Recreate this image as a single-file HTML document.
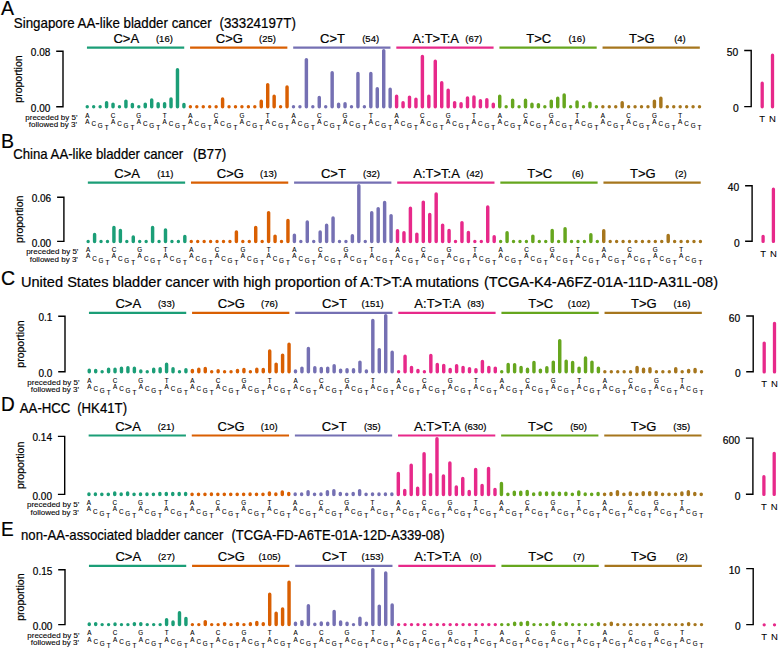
<!DOCTYPE html>
<html><head><meta charset="utf-8"><style>html,body{margin:0;padding:0;background:#fff;width:779px;height:650px;overflow:hidden}svg{display:block}</style></head>
<body><svg width="779" height="650" viewBox="0 0 779 650" font-family='"Liberation Sans", sans-serif'>
<rect width="779" height="650" fill="#fff"/>
<g><text transform="translate(1.00 15.30) scale(1 1.08)" font-size="19.5" stroke="#000" stroke-width="0.2">A</text><text transform="translate(13.80 28.00) scale(1 1.12)" font-size="13.35" stroke="#000" stroke-width="0.2">Singapore AA-like bladder cancer</text><text transform="translate(219.50 28.00) scale(1 1.12)" font-size="13.35" stroke="#000" stroke-width="0.2">(33324197T)</text><line x1="86.95" y1="47.6" x2="184.23" y2="47.6" stroke="#1b9e77" stroke-width="2.2"/><text transform="translate(126.29 42.60) scale(1 1.04)" font-size="13" text-anchor="middle" stroke="#000" stroke-width="0.2">C&gt;A</text><text transform="translate(164.39 42.00) scale(1 0.9)" font-size="9.5" text-anchor="middle" stroke="#000" stroke-width="0.2">(16)</text><path d="M87.25 106.80V106.80 M93.69 106.80V106.80 M100.14 106.80V106.80 M106.59 106.80V102.70 M113.03 106.80V104.10 M119.47 106.80V106.80 M125.92 106.80V101.10 M132.37 106.80V104.40 M138.81 106.80V106.80 M145.25 106.80V104.10 M151.70 106.80V100.00 M158.15 106.80V103.80 M164.59 106.80V103.80 M171.03 106.80V98.90 M177.48 106.80V69.80 M183.93 106.80V104.40" stroke="#1b9e77" stroke-width="3.45" stroke-linecap="round" fill="none"/><text x="87.25" y="117.60" font-size="6.3" text-anchor="middle" stroke="#000" stroke-width="0.1">A</text><text x="87.25" y="123.70" font-size="6.3" text-anchor="middle" stroke="#000" stroke-width="0.1">A</text><text x="93.69" y="126.10" font-size="6.3" text-anchor="middle" stroke="#000" stroke-width="0.1">C</text><text x="100.14" y="128.20" font-size="6.3" text-anchor="middle" stroke="#000" stroke-width="0.1">G</text><text x="106.59" y="130.00" font-size="6.3" text-anchor="middle" stroke="#000" stroke-width="0.1">T</text><text x="113.03" y="117.60" font-size="6.3" text-anchor="middle" stroke="#000" stroke-width="0.1">C</text><text x="113.03" y="123.70" font-size="6.3" text-anchor="middle" stroke="#000" stroke-width="0.1">A</text><text x="119.47" y="126.10" font-size="6.3" text-anchor="middle" stroke="#000" stroke-width="0.1">C</text><text x="125.92" y="128.20" font-size="6.3" text-anchor="middle" stroke="#000" stroke-width="0.1">G</text><text x="132.37" y="130.00" font-size="6.3" text-anchor="middle" stroke="#000" stroke-width="0.1">T</text><text x="138.81" y="117.60" font-size="6.3" text-anchor="middle" stroke="#000" stroke-width="0.1">G</text><text x="138.81" y="123.70" font-size="6.3" text-anchor="middle" stroke="#000" stroke-width="0.1">A</text><text x="145.25" y="126.10" font-size="6.3" text-anchor="middle" stroke="#000" stroke-width="0.1">C</text><text x="151.70" y="128.20" font-size="6.3" text-anchor="middle" stroke="#000" stroke-width="0.1">G</text><text x="158.15" y="130.00" font-size="6.3" text-anchor="middle" stroke="#000" stroke-width="0.1">T</text><text x="164.59" y="117.60" font-size="6.3" text-anchor="middle" stroke="#000" stroke-width="0.1">T</text><text x="164.59" y="123.70" font-size="6.3" text-anchor="middle" stroke="#000" stroke-width="0.1">A</text><text x="171.03" y="126.10" font-size="6.3" text-anchor="middle" stroke="#000" stroke-width="0.1">C</text><text x="177.48" y="128.20" font-size="6.3" text-anchor="middle" stroke="#000" stroke-width="0.1">G</text><text x="183.93" y="130.00" font-size="6.3" text-anchor="middle" stroke="#000" stroke-width="0.1">T</text><line x1="190.07" y1="47.6" x2="287.35" y2="47.6" stroke="#d95f02" stroke-width="2.2"/><text transform="translate(229.41 42.60) scale(1 1.04)" font-size="13" text-anchor="middle" stroke="#000" stroke-width="0.2">C&gt;G</text><text transform="translate(267.51 42.00) scale(1 0.9)" font-size="9.5" text-anchor="middle" stroke="#000" stroke-width="0.2">(25)</text><path d="M190.37 106.80V106.80 M196.81 106.80V106.80 M203.26 106.80V106.80 M209.71 106.80V106.80 M216.15 106.80V106.80 M222.59 106.80V98.90 M229.04 106.80V106.80 M235.49 106.80V106.80 M241.93 106.80V106.80 M248.38 106.80V106.80 M254.82 106.80V106.80 M261.26 106.80V101.20 M267.71 106.80V84.60 M274.15 106.80V96.20 M280.60 106.80V106.80 M287.05 106.80V87.00" stroke="#d95f02" stroke-width="3.45" stroke-linecap="round" fill="none"/><text x="190.37" y="117.60" font-size="6.3" text-anchor="middle" stroke="#000" stroke-width="0.1">A</text><text x="190.37" y="123.70" font-size="6.3" text-anchor="middle" stroke="#000" stroke-width="0.1">A</text><text x="196.81" y="126.10" font-size="6.3" text-anchor="middle" stroke="#000" stroke-width="0.1">C</text><text x="203.26" y="128.20" font-size="6.3" text-anchor="middle" stroke="#000" stroke-width="0.1">G</text><text x="209.71" y="130.00" font-size="6.3" text-anchor="middle" stroke="#000" stroke-width="0.1">T</text><text x="216.15" y="117.60" font-size="6.3" text-anchor="middle" stroke="#000" stroke-width="0.1">C</text><text x="216.15" y="123.70" font-size="6.3" text-anchor="middle" stroke="#000" stroke-width="0.1">A</text><text x="222.59" y="126.10" font-size="6.3" text-anchor="middle" stroke="#000" stroke-width="0.1">C</text><text x="229.04" y="128.20" font-size="6.3" text-anchor="middle" stroke="#000" stroke-width="0.1">G</text><text x="235.49" y="130.00" font-size="6.3" text-anchor="middle" stroke="#000" stroke-width="0.1">T</text><text x="241.93" y="117.60" font-size="6.3" text-anchor="middle" stroke="#000" stroke-width="0.1">G</text><text x="241.93" y="123.70" font-size="6.3" text-anchor="middle" stroke="#000" stroke-width="0.1">A</text><text x="248.38" y="126.10" font-size="6.3" text-anchor="middle" stroke="#000" stroke-width="0.1">C</text><text x="254.82" y="128.20" font-size="6.3" text-anchor="middle" stroke="#000" stroke-width="0.1">G</text><text x="261.26" y="130.00" font-size="6.3" text-anchor="middle" stroke="#000" stroke-width="0.1">T</text><text x="267.71" y="117.60" font-size="6.3" text-anchor="middle" stroke="#000" stroke-width="0.1">T</text><text x="267.71" y="123.70" font-size="6.3" text-anchor="middle" stroke="#000" stroke-width="0.1">A</text><text x="274.15" y="126.10" font-size="6.3" text-anchor="middle" stroke="#000" stroke-width="0.1">C</text><text x="280.60" y="128.20" font-size="6.3" text-anchor="middle" stroke="#000" stroke-width="0.1">G</text><text x="287.05" y="130.00" font-size="6.3" text-anchor="middle" stroke="#000" stroke-width="0.1">T</text><line x1="293.19" y1="47.6" x2="390.47" y2="47.6" stroke="#7570b3" stroke-width="2.2"/><text transform="translate(332.53 42.60) scale(1 1.04)" font-size="13" text-anchor="middle" stroke="#000" stroke-width="0.2">C&gt;T</text><text transform="translate(370.63 42.00) scale(1 0.9)" font-size="9.5" text-anchor="middle" stroke="#000" stroke-width="0.2">(54)</text><path d="M293.49 106.80V106.80 M299.94 106.80V106.80 M306.38 106.80V59.60 M312.83 106.80V106.80 M319.27 106.80V97.50 M325.72 106.80V106.80 M332.16 106.80V72.80 M338.61 106.80V104.20 M345.05 106.80V103.80 M351.50 106.80V106.80 M357.94 106.80V73.50 M364.38 106.80V106.80 M370.83 106.80V73.50 M377.28 106.80V88.70 M383.72 106.80V50.60 M390.17 106.80V89.30" stroke="#7570b3" stroke-width="3.45" stroke-linecap="round" fill="none"/><text x="293.49" y="117.60" font-size="6.3" text-anchor="middle" stroke="#000" stroke-width="0.1">A</text><text x="293.49" y="123.70" font-size="6.3" text-anchor="middle" stroke="#000" stroke-width="0.1">A</text><text x="299.94" y="126.10" font-size="6.3" text-anchor="middle" stroke="#000" stroke-width="0.1">C</text><text x="306.38" y="128.20" font-size="6.3" text-anchor="middle" stroke="#000" stroke-width="0.1">G</text><text x="312.83" y="130.00" font-size="6.3" text-anchor="middle" stroke="#000" stroke-width="0.1">T</text><text x="319.27" y="117.60" font-size="6.3" text-anchor="middle" stroke="#000" stroke-width="0.1">C</text><text x="319.27" y="123.70" font-size="6.3" text-anchor="middle" stroke="#000" stroke-width="0.1">A</text><text x="325.72" y="126.10" font-size="6.3" text-anchor="middle" stroke="#000" stroke-width="0.1">C</text><text x="332.16" y="128.20" font-size="6.3" text-anchor="middle" stroke="#000" stroke-width="0.1">G</text><text x="338.61" y="130.00" font-size="6.3" text-anchor="middle" stroke="#000" stroke-width="0.1">T</text><text x="345.05" y="117.60" font-size="6.3" text-anchor="middle" stroke="#000" stroke-width="0.1">G</text><text x="345.05" y="123.70" font-size="6.3" text-anchor="middle" stroke="#000" stroke-width="0.1">A</text><text x="351.50" y="126.10" font-size="6.3" text-anchor="middle" stroke="#000" stroke-width="0.1">C</text><text x="357.94" y="128.20" font-size="6.3" text-anchor="middle" stroke="#000" stroke-width="0.1">G</text><text x="364.38" y="130.00" font-size="6.3" text-anchor="middle" stroke="#000" stroke-width="0.1">T</text><text x="370.83" y="117.60" font-size="6.3" text-anchor="middle" stroke="#000" stroke-width="0.1">T</text><text x="370.83" y="123.70" font-size="6.3" text-anchor="middle" stroke="#000" stroke-width="0.1">A</text><text x="377.28" y="126.10" font-size="6.3" text-anchor="middle" stroke="#000" stroke-width="0.1">C</text><text x="383.72" y="128.20" font-size="6.3" text-anchor="middle" stroke="#000" stroke-width="0.1">G</text><text x="390.17" y="130.00" font-size="6.3" text-anchor="middle" stroke="#000" stroke-width="0.1">T</text><line x1="396.31" y1="47.6" x2="493.59" y2="47.6" stroke="#e7298a" stroke-width="2.2"/><text transform="translate(435.65 42.60) scale(1 1.04)" font-size="13" text-anchor="middle" stroke="#000" stroke-width="0.2">A:T&gt;T:A</text><text transform="translate(473.75 42.00) scale(1 0.9)" font-size="9.5" text-anchor="middle" stroke="#000" stroke-width="0.2">(67)</text><path d="M396.61 106.80V96.20 M403.06 106.80V102.80 M409.50 106.80V97.10 M415.94 106.80V99.30 M422.39 106.80V56.50 M428.84 106.80V96.20 M435.28 106.80V61.20 M441.73 106.80V82.70 M448.17 106.80V90.30 M454.62 106.80V102.60 M461.06 106.80V103.80 M467.50 106.80V97.90 M473.95 106.80V96.90 M480.40 106.80V100.80 M486.84 106.80V99.80 M493.29 106.80V104.20" stroke="#e7298a" stroke-width="3.45" stroke-linecap="round" fill="none"/><text x="396.61" y="117.60" font-size="6.3" text-anchor="middle" stroke="#000" stroke-width="0.1">A</text><text x="396.61" y="123.70" font-size="6.3" text-anchor="middle" stroke="#000" stroke-width="0.1">A</text><text x="403.06" y="126.10" font-size="6.3" text-anchor="middle" stroke="#000" stroke-width="0.1">C</text><text x="409.50" y="128.20" font-size="6.3" text-anchor="middle" stroke="#000" stroke-width="0.1">G</text><text x="415.94" y="130.00" font-size="6.3" text-anchor="middle" stroke="#000" stroke-width="0.1">T</text><text x="422.39" y="117.60" font-size="6.3" text-anchor="middle" stroke="#000" stroke-width="0.1">C</text><text x="422.39" y="123.70" font-size="6.3" text-anchor="middle" stroke="#000" stroke-width="0.1">A</text><text x="428.84" y="126.10" font-size="6.3" text-anchor="middle" stroke="#000" stroke-width="0.1">C</text><text x="435.28" y="128.20" font-size="6.3" text-anchor="middle" stroke="#000" stroke-width="0.1">G</text><text x="441.73" y="130.00" font-size="6.3" text-anchor="middle" stroke="#000" stroke-width="0.1">T</text><text x="448.17" y="117.60" font-size="6.3" text-anchor="middle" stroke="#000" stroke-width="0.1">G</text><text x="448.17" y="123.70" font-size="6.3" text-anchor="middle" stroke="#000" stroke-width="0.1">A</text><text x="454.62" y="126.10" font-size="6.3" text-anchor="middle" stroke="#000" stroke-width="0.1">C</text><text x="461.06" y="128.20" font-size="6.3" text-anchor="middle" stroke="#000" stroke-width="0.1">G</text><text x="467.50" y="130.00" font-size="6.3" text-anchor="middle" stroke="#000" stroke-width="0.1">T</text><text x="473.95" y="117.60" font-size="6.3" text-anchor="middle" stroke="#000" stroke-width="0.1">T</text><text x="473.95" y="123.70" font-size="6.3" text-anchor="middle" stroke="#000" stroke-width="0.1">A</text><text x="480.40" y="126.10" font-size="6.3" text-anchor="middle" stroke="#000" stroke-width="0.1">C</text><text x="486.84" y="128.20" font-size="6.3" text-anchor="middle" stroke="#000" stroke-width="0.1">G</text><text x="493.29" y="130.00" font-size="6.3" text-anchor="middle" stroke="#000" stroke-width="0.1">T</text><line x1="499.43" y1="47.6" x2="596.70" y2="47.6" stroke="#66a61e" stroke-width="2.2"/><text transform="translate(538.77 42.60) scale(1 1.04)" font-size="13" text-anchor="middle" stroke="#000" stroke-width="0.2">T&gt;C</text><text transform="translate(576.87 42.00) scale(1 0.9)" font-size="9.5" text-anchor="middle" stroke="#000" stroke-width="0.2">(16)</text><path d="M499.73 106.80V96.20 M506.18 106.80V106.80 M512.62 106.80V100.20 M519.07 106.80V106.80 M525.51 106.80V100.20 M531.96 106.80V104.20 M538.40 106.80V104.60 M544.85 106.80V106.80 M551.29 106.80V101.10 M557.74 106.80V98.20 M564.18 106.80V94.90 M570.62 106.80V106.80 M577.07 106.80V101.90 M583.52 106.80V106.80 M589.96 106.80V103.20 M596.40 106.80V106.80" stroke="#66a61e" stroke-width="3.45" stroke-linecap="round" fill="none"/><text x="499.73" y="117.60" font-size="6.3" text-anchor="middle" stroke="#000" stroke-width="0.1">A</text><text x="499.73" y="123.70" font-size="6.3" text-anchor="middle" stroke="#000" stroke-width="0.1">A</text><text x="506.18" y="126.10" font-size="6.3" text-anchor="middle" stroke="#000" stroke-width="0.1">C</text><text x="512.62" y="128.20" font-size="6.3" text-anchor="middle" stroke="#000" stroke-width="0.1">G</text><text x="519.07" y="130.00" font-size="6.3" text-anchor="middle" stroke="#000" stroke-width="0.1">T</text><text x="525.51" y="117.60" font-size="6.3" text-anchor="middle" stroke="#000" stroke-width="0.1">C</text><text x="525.51" y="123.70" font-size="6.3" text-anchor="middle" stroke="#000" stroke-width="0.1">A</text><text x="531.96" y="126.10" font-size="6.3" text-anchor="middle" stroke="#000" stroke-width="0.1">C</text><text x="538.40" y="128.20" font-size="6.3" text-anchor="middle" stroke="#000" stroke-width="0.1">G</text><text x="544.85" y="130.00" font-size="6.3" text-anchor="middle" stroke="#000" stroke-width="0.1">T</text><text x="551.29" y="117.60" font-size="6.3" text-anchor="middle" stroke="#000" stroke-width="0.1">G</text><text x="551.29" y="123.70" font-size="6.3" text-anchor="middle" stroke="#000" stroke-width="0.1">A</text><text x="557.74" y="126.10" font-size="6.3" text-anchor="middle" stroke="#000" stroke-width="0.1">C</text><text x="564.18" y="128.20" font-size="6.3" text-anchor="middle" stroke="#000" stroke-width="0.1">G</text><text x="570.62" y="130.00" font-size="6.3" text-anchor="middle" stroke="#000" stroke-width="0.1">T</text><text x="577.07" y="117.60" font-size="6.3" text-anchor="middle" stroke="#000" stroke-width="0.1">T</text><text x="577.07" y="123.70" font-size="6.3" text-anchor="middle" stroke="#000" stroke-width="0.1">A</text><text x="583.52" y="126.10" font-size="6.3" text-anchor="middle" stroke="#000" stroke-width="0.1">C</text><text x="589.96" y="128.20" font-size="6.3" text-anchor="middle" stroke="#000" stroke-width="0.1">G</text><text x="596.40" y="130.00" font-size="6.3" text-anchor="middle" stroke="#000" stroke-width="0.1">T</text><line x1="602.55" y1="47.6" x2="699.82" y2="47.6" stroke="#a6761d" stroke-width="2.2"/><text transform="translate(641.89 42.60) scale(1 1.04)" font-size="13" text-anchor="middle" stroke="#000" stroke-width="0.2">T&gt;G</text><text transform="translate(679.99 42.00) scale(1 0.9)" font-size="9.5" text-anchor="middle" stroke="#000" stroke-width="0.2">(4)</text><path d="M602.85 106.80V106.80 M609.30 106.80V106.80 M615.74 106.80V106.80 M622.19 106.80V102.80 M628.63 106.80V106.80 M635.08 106.80V106.80 M641.52 106.80V106.80 M647.97 106.80V106.80 M654.41 106.80V101.10 M660.86 106.80V98.20 M667.30 106.80V106.80 M673.75 106.80V106.80 M680.19 106.80V106.80 M686.63 106.80V106.80 M693.08 106.80V106.80 M699.52 106.80V106.80" stroke="#a6761d" stroke-width="3.45" stroke-linecap="round" fill="none"/><text x="602.85" y="117.60" font-size="6.3" text-anchor="middle" stroke="#000" stroke-width="0.1">A</text><text x="602.85" y="123.70" font-size="6.3" text-anchor="middle" stroke="#000" stroke-width="0.1">A</text><text x="609.30" y="126.10" font-size="6.3" text-anchor="middle" stroke="#000" stroke-width="0.1">C</text><text x="615.74" y="128.20" font-size="6.3" text-anchor="middle" stroke="#000" stroke-width="0.1">G</text><text x="622.19" y="130.00" font-size="6.3" text-anchor="middle" stroke="#000" stroke-width="0.1">T</text><text x="628.63" y="117.60" font-size="6.3" text-anchor="middle" stroke="#000" stroke-width="0.1">C</text><text x="628.63" y="123.70" font-size="6.3" text-anchor="middle" stroke="#000" stroke-width="0.1">A</text><text x="635.08" y="126.10" font-size="6.3" text-anchor="middle" stroke="#000" stroke-width="0.1">C</text><text x="641.52" y="128.20" font-size="6.3" text-anchor="middle" stroke="#000" stroke-width="0.1">G</text><text x="647.97" y="130.00" font-size="6.3" text-anchor="middle" stroke="#000" stroke-width="0.1">T</text><text x="654.41" y="117.60" font-size="6.3" text-anchor="middle" stroke="#000" stroke-width="0.1">G</text><text x="654.41" y="123.70" font-size="6.3" text-anchor="middle" stroke="#000" stroke-width="0.1">A</text><text x="660.86" y="126.10" font-size="6.3" text-anchor="middle" stroke="#000" stroke-width="0.1">C</text><text x="667.30" y="128.20" font-size="6.3" text-anchor="middle" stroke="#000" stroke-width="0.1">G</text><text x="673.75" y="130.00" font-size="6.3" text-anchor="middle" stroke="#000" stroke-width="0.1">T</text><text x="680.19" y="117.60" font-size="6.3" text-anchor="middle" stroke="#000" stroke-width="0.1">T</text><text x="680.19" y="123.70" font-size="6.3" text-anchor="middle" stroke="#000" stroke-width="0.1">A</text><text x="686.63" y="126.10" font-size="6.3" text-anchor="middle" stroke="#000" stroke-width="0.1">C</text><text x="693.08" y="128.20" font-size="6.3" text-anchor="middle" stroke="#000" stroke-width="0.1">G</text><text x="699.52" y="130.00" font-size="6.3" text-anchor="middle" stroke="#000" stroke-width="0.1">T</text><path d="M56.20 51.3H63.00V106.8H56.20" stroke="#000" stroke-width="1.4" fill="none"/><text x="50.30" y="56.30" font-size="10" text-anchor="end" stroke="#000" stroke-width="0.2">0.08</text><text x="50.30" y="112.00" font-size="10" text-anchor="end" stroke="#000" stroke-width="0.2">0.00</text><text transform="translate(21.80 79.05) rotate(-90)" font-size="10.5" text-anchor="middle" stroke="#000" stroke-width="0.2">proportion</text><text x="77.50" y="119.70" font-size="8" text-anchor="end" stroke="#000" stroke-width="0.1">preceded by 5'</text><text x="77.00" y="127.40" font-size="8" text-anchor="end" stroke="#000" stroke-width="0.1">followed by 3'</text><path d="M744.20 50.5H751.20V106.65H744.20" stroke="#000" stroke-width="1.4" fill="none"/><text transform="translate(738.30 56.10) scale(1 1.1)" font-size="10.3" text-anchor="end" stroke="#000" stroke-width="0.2">50</text><text transform="translate(738.80 112.25) scale(1 1.1)" font-size="10.3" text-anchor="end" stroke="#000" stroke-width="0.2">0</text><path d="M762.20 106.85V83.25M772.50 106.85V55.15" stroke="#e7298a" stroke-width="3.3" stroke-linecap="round" fill="none"/><text x="762.20" y="122.05" font-size="9.5" text-anchor="middle" stroke="#000" stroke-width="0.05">T</text><text x="772.50" y="122.05" font-size="9.5" text-anchor="middle" stroke="#000" stroke-width="0.05">N</text></g>
<g><text transform="translate(1.00 147.70) scale(1 1.08)" font-size="19.5" stroke="#000" stroke-width="0.2">B</text><text transform="translate(13.20 158.90) scale(1 1.12)" font-size="13.2" stroke="#000" stroke-width="0.2">China AA-like bladder cancer</text><text transform="translate(192.90 158.90) scale(1 1.12)" font-size="13.7" stroke="#000" stroke-width="0.2">(B77)</text><line x1="87.85" y1="182.7" x2="185.13" y2="182.7" stroke="#1b9e77" stroke-width="2.2"/><text transform="translate(127.19 177.70) scale(1 1.04)" font-size="13" text-anchor="middle" stroke="#000" stroke-width="0.2">C&gt;A</text><text transform="translate(165.29 177.10) scale(1 0.9)" font-size="9.5" text-anchor="middle" stroke="#000" stroke-width="0.2">(11)</text><path d="M88.15 241.40V241.40 M94.59 241.40V234.40 M101.04 241.40V241.40 M107.49 241.40V241.40 M113.93 241.40V227.50 M120.38 241.40V230.40 M126.82 241.40V241.40 M133.27 241.40V237.00 M139.71 241.40V241.40 M146.16 241.40V241.40 M152.60 241.40V227.50 M159.05 241.40V241.40 M165.49 241.40V229.90 M171.94 241.40V241.40 M178.38 241.40V241.40 M184.83 241.40V236.50" stroke="#1b9e77" stroke-width="3.45" stroke-linecap="round" fill="none"/><text x="88.15" y="252.20" font-size="6.3" text-anchor="middle" stroke="#000" stroke-width="0.1">A</text><text x="88.15" y="258.30" font-size="6.3" text-anchor="middle" stroke="#000" stroke-width="0.1">A</text><text x="94.59" y="260.70" font-size="6.3" text-anchor="middle" stroke="#000" stroke-width="0.1">C</text><text x="101.04" y="262.80" font-size="6.3" text-anchor="middle" stroke="#000" stroke-width="0.1">G</text><text x="107.49" y="264.60" font-size="6.3" text-anchor="middle" stroke="#000" stroke-width="0.1">T</text><text x="113.93" y="252.20" font-size="6.3" text-anchor="middle" stroke="#000" stroke-width="0.1">C</text><text x="113.93" y="258.30" font-size="6.3" text-anchor="middle" stroke="#000" stroke-width="0.1">A</text><text x="120.38" y="260.70" font-size="6.3" text-anchor="middle" stroke="#000" stroke-width="0.1">C</text><text x="126.82" y="262.80" font-size="6.3" text-anchor="middle" stroke="#000" stroke-width="0.1">G</text><text x="133.27" y="264.60" font-size="6.3" text-anchor="middle" stroke="#000" stroke-width="0.1">T</text><text x="139.71" y="252.20" font-size="6.3" text-anchor="middle" stroke="#000" stroke-width="0.1">G</text><text x="139.71" y="258.30" font-size="6.3" text-anchor="middle" stroke="#000" stroke-width="0.1">A</text><text x="146.16" y="260.70" font-size="6.3" text-anchor="middle" stroke="#000" stroke-width="0.1">C</text><text x="152.60" y="262.80" font-size="6.3" text-anchor="middle" stroke="#000" stroke-width="0.1">G</text><text x="159.05" y="264.60" font-size="6.3" text-anchor="middle" stroke="#000" stroke-width="0.1">T</text><text x="165.49" y="252.20" font-size="6.3" text-anchor="middle" stroke="#000" stroke-width="0.1">T</text><text x="165.49" y="258.30" font-size="6.3" text-anchor="middle" stroke="#000" stroke-width="0.1">A</text><text x="171.94" y="260.70" font-size="6.3" text-anchor="middle" stroke="#000" stroke-width="0.1">C</text><text x="178.38" y="262.80" font-size="6.3" text-anchor="middle" stroke="#000" stroke-width="0.1">G</text><text x="184.83" y="264.60" font-size="6.3" text-anchor="middle" stroke="#000" stroke-width="0.1">T</text><line x1="190.97" y1="182.7" x2="288.25" y2="182.7" stroke="#d95f02" stroke-width="2.2"/><text transform="translate(230.31 177.70) scale(1 1.04)" font-size="13" text-anchor="middle" stroke="#000" stroke-width="0.2">C&gt;G</text><text transform="translate(268.41 177.10) scale(1 0.9)" font-size="9.5" text-anchor="middle" stroke="#000" stroke-width="0.2">(13)</text><path d="M191.27 241.40V241.40 M197.72 241.40V241.40 M204.16 241.40V241.40 M210.61 241.40V241.40 M217.05 241.40V241.40 M223.50 241.40V241.40 M229.94 241.40V241.40 M236.39 241.40V231.90 M242.83 241.40V241.40 M249.28 241.40V241.40 M255.72 241.40V227.50 M262.17 241.40V241.40 M268.61 241.40V212.60 M275.06 241.40V236.10 M281.50 241.40V241.40 M287.95 241.40V220.50" stroke="#d95f02" stroke-width="3.45" stroke-linecap="round" fill="none"/><text x="191.27" y="252.20" font-size="6.3" text-anchor="middle" stroke="#000" stroke-width="0.1">A</text><text x="191.27" y="258.30" font-size="6.3" text-anchor="middle" stroke="#000" stroke-width="0.1">A</text><text x="197.72" y="260.70" font-size="6.3" text-anchor="middle" stroke="#000" stroke-width="0.1">C</text><text x="204.16" y="262.80" font-size="6.3" text-anchor="middle" stroke="#000" stroke-width="0.1">G</text><text x="210.61" y="264.60" font-size="6.3" text-anchor="middle" stroke="#000" stroke-width="0.1">T</text><text x="217.05" y="252.20" font-size="6.3" text-anchor="middle" stroke="#000" stroke-width="0.1">C</text><text x="217.05" y="258.30" font-size="6.3" text-anchor="middle" stroke="#000" stroke-width="0.1">A</text><text x="223.50" y="260.70" font-size="6.3" text-anchor="middle" stroke="#000" stroke-width="0.1">C</text><text x="229.94" y="262.80" font-size="6.3" text-anchor="middle" stroke="#000" stroke-width="0.1">G</text><text x="236.39" y="264.60" font-size="6.3" text-anchor="middle" stroke="#000" stroke-width="0.1">T</text><text x="242.83" y="252.20" font-size="6.3" text-anchor="middle" stroke="#000" stroke-width="0.1">G</text><text x="242.83" y="258.30" font-size="6.3" text-anchor="middle" stroke="#000" stroke-width="0.1">A</text><text x="249.28" y="260.70" font-size="6.3" text-anchor="middle" stroke="#000" stroke-width="0.1">C</text><text x="255.72" y="262.80" font-size="6.3" text-anchor="middle" stroke="#000" stroke-width="0.1">G</text><text x="262.17" y="264.60" font-size="6.3" text-anchor="middle" stroke="#000" stroke-width="0.1">T</text><text x="268.61" y="252.20" font-size="6.3" text-anchor="middle" stroke="#000" stroke-width="0.1">T</text><text x="268.61" y="258.30" font-size="6.3" text-anchor="middle" stroke="#000" stroke-width="0.1">A</text><text x="275.06" y="260.70" font-size="6.3" text-anchor="middle" stroke="#000" stroke-width="0.1">C</text><text x="281.50" y="262.80" font-size="6.3" text-anchor="middle" stroke="#000" stroke-width="0.1">G</text><text x="287.95" y="264.60" font-size="6.3" text-anchor="middle" stroke="#000" stroke-width="0.1">T</text><line x1="294.09" y1="182.7" x2="391.37" y2="182.7" stroke="#7570b3" stroke-width="2.2"/><text transform="translate(333.43 177.70) scale(1 1.04)" font-size="13" text-anchor="middle" stroke="#000" stroke-width="0.2">C&gt;T</text><text transform="translate(371.53 177.10) scale(1 0.9)" font-size="9.5" text-anchor="middle" stroke="#000" stroke-width="0.2">(32)</text><path d="M294.39 241.40V235.20 M300.84 241.40V241.40 M307.28 241.40V222.00 M313.73 241.40V241.40 M320.17 241.40V231.90 M326.62 241.40V225.30 M333.06 241.40V218.00 M339.50 241.40V241.40 M345.95 241.40V241.40 M352.39 241.40V235.80 M358.84 241.40V185.80 M365.28 241.40V241.40 M371.73 241.40V212.70 M378.18 241.40V208.60 M384.62 241.40V202.40 M391.07 241.40V215.60" stroke="#7570b3" stroke-width="3.45" stroke-linecap="round" fill="none"/><text x="294.39" y="252.20" font-size="6.3" text-anchor="middle" stroke="#000" stroke-width="0.1">A</text><text x="294.39" y="258.30" font-size="6.3" text-anchor="middle" stroke="#000" stroke-width="0.1">A</text><text x="300.84" y="260.70" font-size="6.3" text-anchor="middle" stroke="#000" stroke-width="0.1">C</text><text x="307.28" y="262.80" font-size="6.3" text-anchor="middle" stroke="#000" stroke-width="0.1">G</text><text x="313.73" y="264.60" font-size="6.3" text-anchor="middle" stroke="#000" stroke-width="0.1">T</text><text x="320.17" y="252.20" font-size="6.3" text-anchor="middle" stroke="#000" stroke-width="0.1">C</text><text x="320.17" y="258.30" font-size="6.3" text-anchor="middle" stroke="#000" stroke-width="0.1">A</text><text x="326.62" y="260.70" font-size="6.3" text-anchor="middle" stroke="#000" stroke-width="0.1">C</text><text x="333.06" y="262.80" font-size="6.3" text-anchor="middle" stroke="#000" stroke-width="0.1">G</text><text x="339.50" y="264.60" font-size="6.3" text-anchor="middle" stroke="#000" stroke-width="0.1">T</text><text x="345.95" y="252.20" font-size="6.3" text-anchor="middle" stroke="#000" stroke-width="0.1">G</text><text x="345.95" y="258.30" font-size="6.3" text-anchor="middle" stroke="#000" stroke-width="0.1">A</text><text x="352.39" y="260.70" font-size="6.3" text-anchor="middle" stroke="#000" stroke-width="0.1">C</text><text x="358.84" y="262.80" font-size="6.3" text-anchor="middle" stroke="#000" stroke-width="0.1">G</text><text x="365.28" y="264.60" font-size="6.3" text-anchor="middle" stroke="#000" stroke-width="0.1">T</text><text x="371.73" y="252.20" font-size="6.3" text-anchor="middle" stroke="#000" stroke-width="0.1">T</text><text x="371.73" y="258.30" font-size="6.3" text-anchor="middle" stroke="#000" stroke-width="0.1">A</text><text x="378.18" y="260.70" font-size="6.3" text-anchor="middle" stroke="#000" stroke-width="0.1">C</text><text x="384.62" y="262.80" font-size="6.3" text-anchor="middle" stroke="#000" stroke-width="0.1">G</text><text x="391.07" y="264.60" font-size="6.3" text-anchor="middle" stroke="#000" stroke-width="0.1">T</text><line x1="397.21" y1="182.7" x2="494.49" y2="182.7" stroke="#e7298a" stroke-width="2.2"/><text transform="translate(436.55 177.70) scale(1 1.04)" font-size="13" text-anchor="middle" stroke="#000" stroke-width="0.2">A:T&gt;T:A</text><text transform="translate(474.65 177.10) scale(1 0.9)" font-size="9.5" text-anchor="middle" stroke="#000" stroke-width="0.2">(42)</text><path d="M397.51 241.40V230.80 M403.96 241.40V232.80 M410.40 241.40V208.30 M416.85 241.40V234.10 M423.29 241.40V202.10 M429.74 241.40V214.50 M436.18 241.40V194.00 M442.62 241.40V225.10 M449.07 241.40V230.40 M455.51 241.40V241.40 M461.96 241.40V222.60 M468.40 241.40V232.40 M474.85 241.40V241.40 M481.30 241.40V241.40 M487.74 241.40V207.00 M494.19 241.40V236.80" stroke="#e7298a" stroke-width="3.45" stroke-linecap="round" fill="none"/><text x="397.51" y="252.20" font-size="6.3" text-anchor="middle" stroke="#000" stroke-width="0.1">A</text><text x="397.51" y="258.30" font-size="6.3" text-anchor="middle" stroke="#000" stroke-width="0.1">A</text><text x="403.96" y="260.70" font-size="6.3" text-anchor="middle" stroke="#000" stroke-width="0.1">C</text><text x="410.40" y="262.80" font-size="6.3" text-anchor="middle" stroke="#000" stroke-width="0.1">G</text><text x="416.85" y="264.60" font-size="6.3" text-anchor="middle" stroke="#000" stroke-width="0.1">T</text><text x="423.29" y="252.20" font-size="6.3" text-anchor="middle" stroke="#000" stroke-width="0.1">C</text><text x="423.29" y="258.30" font-size="6.3" text-anchor="middle" stroke="#000" stroke-width="0.1">A</text><text x="429.74" y="260.70" font-size="6.3" text-anchor="middle" stroke="#000" stroke-width="0.1">C</text><text x="436.18" y="262.80" font-size="6.3" text-anchor="middle" stroke="#000" stroke-width="0.1">G</text><text x="442.62" y="264.60" font-size="6.3" text-anchor="middle" stroke="#000" stroke-width="0.1">T</text><text x="449.07" y="252.20" font-size="6.3" text-anchor="middle" stroke="#000" stroke-width="0.1">G</text><text x="449.07" y="258.30" font-size="6.3" text-anchor="middle" stroke="#000" stroke-width="0.1">A</text><text x="455.51" y="260.70" font-size="6.3" text-anchor="middle" stroke="#000" stroke-width="0.1">C</text><text x="461.96" y="262.80" font-size="6.3" text-anchor="middle" stroke="#000" stroke-width="0.1">G</text><text x="468.40" y="264.60" font-size="6.3" text-anchor="middle" stroke="#000" stroke-width="0.1">T</text><text x="474.85" y="252.20" font-size="6.3" text-anchor="middle" stroke="#000" stroke-width="0.1">T</text><text x="474.85" y="258.30" font-size="6.3" text-anchor="middle" stroke="#000" stroke-width="0.1">A</text><text x="481.30" y="260.70" font-size="6.3" text-anchor="middle" stroke="#000" stroke-width="0.1">C</text><text x="487.74" y="262.80" font-size="6.3" text-anchor="middle" stroke="#000" stroke-width="0.1">G</text><text x="494.19" y="264.60" font-size="6.3" text-anchor="middle" stroke="#000" stroke-width="0.1">T</text><line x1="500.33" y1="182.7" x2="597.61" y2="182.7" stroke="#66a61e" stroke-width="2.2"/><text transform="translate(539.67 177.70) scale(1 1.04)" font-size="13" text-anchor="middle" stroke="#000" stroke-width="0.2">T&gt;C</text><text transform="translate(577.77 177.10) scale(1 0.9)" font-size="9.5" text-anchor="middle" stroke="#000" stroke-width="0.2">(6)</text><path d="M500.63 241.40V241.40 M507.08 241.40V232.80 M513.52 241.40V241.40 M519.97 241.40V241.40 M526.41 241.40V241.40 M532.86 241.40V236.10 M539.30 241.40V241.40 M545.75 241.40V241.40 M552.19 241.40V230.40 M558.63 241.40V241.40 M565.08 241.40V228.80 M571.52 241.40V241.40 M577.97 241.40V241.40 M584.42 241.40V241.40 M590.86 241.40V234.80 M597.31 241.40V241.40" stroke="#66a61e" stroke-width="3.45" stroke-linecap="round" fill="none"/><text x="500.63" y="252.20" font-size="6.3" text-anchor="middle" stroke="#000" stroke-width="0.1">A</text><text x="500.63" y="258.30" font-size="6.3" text-anchor="middle" stroke="#000" stroke-width="0.1">A</text><text x="507.08" y="260.70" font-size="6.3" text-anchor="middle" stroke="#000" stroke-width="0.1">C</text><text x="513.52" y="262.80" font-size="6.3" text-anchor="middle" stroke="#000" stroke-width="0.1">G</text><text x="519.97" y="264.60" font-size="6.3" text-anchor="middle" stroke="#000" stroke-width="0.1">T</text><text x="526.41" y="252.20" font-size="6.3" text-anchor="middle" stroke="#000" stroke-width="0.1">C</text><text x="526.41" y="258.30" font-size="6.3" text-anchor="middle" stroke="#000" stroke-width="0.1">A</text><text x="532.86" y="260.70" font-size="6.3" text-anchor="middle" stroke="#000" stroke-width="0.1">C</text><text x="539.30" y="262.80" font-size="6.3" text-anchor="middle" stroke="#000" stroke-width="0.1">G</text><text x="545.75" y="264.60" font-size="6.3" text-anchor="middle" stroke="#000" stroke-width="0.1">T</text><text x="552.19" y="252.20" font-size="6.3" text-anchor="middle" stroke="#000" stroke-width="0.1">G</text><text x="552.19" y="258.30" font-size="6.3" text-anchor="middle" stroke="#000" stroke-width="0.1">A</text><text x="558.63" y="260.70" font-size="6.3" text-anchor="middle" stroke="#000" stroke-width="0.1">C</text><text x="565.08" y="262.80" font-size="6.3" text-anchor="middle" stroke="#000" stroke-width="0.1">G</text><text x="571.52" y="264.60" font-size="6.3" text-anchor="middle" stroke="#000" stroke-width="0.1">T</text><text x="577.97" y="252.20" font-size="6.3" text-anchor="middle" stroke="#000" stroke-width="0.1">T</text><text x="577.97" y="258.30" font-size="6.3" text-anchor="middle" stroke="#000" stroke-width="0.1">A</text><text x="584.42" y="260.70" font-size="6.3" text-anchor="middle" stroke="#000" stroke-width="0.1">C</text><text x="590.86" y="262.80" font-size="6.3" text-anchor="middle" stroke="#000" stroke-width="0.1">G</text><text x="597.31" y="264.60" font-size="6.3" text-anchor="middle" stroke="#000" stroke-width="0.1">T</text><line x1="603.45" y1="182.7" x2="700.72" y2="182.7" stroke="#a6761d" stroke-width="2.2"/><text transform="translate(642.79 177.70) scale(1 1.04)" font-size="13" text-anchor="middle" stroke="#000" stroke-width="0.2">T&gt;G</text><text transform="translate(680.89 177.10) scale(1 0.9)" font-size="9.5" text-anchor="middle" stroke="#000" stroke-width="0.2">(2)</text><path d="M603.75 241.40V230.80 M610.20 241.40V241.40 M616.64 241.40V241.40 M623.09 241.40V241.40 M629.53 241.40V241.40 M635.98 241.40V241.40 M642.42 241.40V241.40 M648.87 241.40V241.40 M655.31 241.40V241.40 M661.75 241.40V241.40 M668.20 241.40V235.40 M674.64 241.40V241.40 M681.09 241.40V241.40 M687.53 241.40V241.40 M693.98 241.40V241.40 M700.42 241.40V241.40" stroke="#a6761d" stroke-width="3.45" stroke-linecap="round" fill="none"/><text x="603.75" y="252.20" font-size="6.3" text-anchor="middle" stroke="#000" stroke-width="0.1">A</text><text x="603.75" y="258.30" font-size="6.3" text-anchor="middle" stroke="#000" stroke-width="0.1">A</text><text x="610.20" y="260.70" font-size="6.3" text-anchor="middle" stroke="#000" stroke-width="0.1">C</text><text x="616.64" y="262.80" font-size="6.3" text-anchor="middle" stroke="#000" stroke-width="0.1">G</text><text x="623.09" y="264.60" font-size="6.3" text-anchor="middle" stroke="#000" stroke-width="0.1">T</text><text x="629.53" y="252.20" font-size="6.3" text-anchor="middle" stroke="#000" stroke-width="0.1">C</text><text x="629.53" y="258.30" font-size="6.3" text-anchor="middle" stroke="#000" stroke-width="0.1">A</text><text x="635.98" y="260.70" font-size="6.3" text-anchor="middle" stroke="#000" stroke-width="0.1">C</text><text x="642.42" y="262.80" font-size="6.3" text-anchor="middle" stroke="#000" stroke-width="0.1">G</text><text x="648.87" y="264.60" font-size="6.3" text-anchor="middle" stroke="#000" stroke-width="0.1">T</text><text x="655.31" y="252.20" font-size="6.3" text-anchor="middle" stroke="#000" stroke-width="0.1">G</text><text x="655.31" y="258.30" font-size="6.3" text-anchor="middle" stroke="#000" stroke-width="0.1">A</text><text x="661.75" y="260.70" font-size="6.3" text-anchor="middle" stroke="#000" stroke-width="0.1">C</text><text x="668.20" y="262.80" font-size="6.3" text-anchor="middle" stroke="#000" stroke-width="0.1">G</text><text x="674.64" y="264.60" font-size="6.3" text-anchor="middle" stroke="#000" stroke-width="0.1">T</text><text x="681.09" y="252.20" font-size="6.3" text-anchor="middle" stroke="#000" stroke-width="0.1">T</text><text x="681.09" y="258.30" font-size="6.3" text-anchor="middle" stroke="#000" stroke-width="0.1">A</text><text x="687.53" y="260.70" font-size="6.3" text-anchor="middle" stroke="#000" stroke-width="0.1">C</text><text x="693.98" y="262.80" font-size="6.3" text-anchor="middle" stroke="#000" stroke-width="0.1">G</text><text x="700.42" y="264.60" font-size="6.3" text-anchor="middle" stroke="#000" stroke-width="0.1">T</text><path d="M57.10 197.2H63.90V241.4H57.10" stroke="#000" stroke-width="1.4" fill="none"/><text x="51.20" y="202.20" font-size="10" text-anchor="end" stroke="#000" stroke-width="0.2">0.06</text><text x="51.20" y="246.60" font-size="10" text-anchor="end" stroke="#000" stroke-width="0.2">0.00</text><text transform="translate(22.70 219.30) rotate(-90)" font-size="10.5" text-anchor="middle" stroke="#000" stroke-width="0.2">proportion</text><text x="78.40" y="254.30" font-size="8" text-anchor="end" stroke="#000" stroke-width="0.1">preceded by 5'</text><text x="77.90" y="262.00" font-size="8" text-anchor="end" stroke="#000" stroke-width="0.1">followed by 3'</text><path d="M745.10 185.7H752.10V241.25H745.10" stroke="#000" stroke-width="1.4" fill="none"/><text transform="translate(739.20 191.30) scale(1 1.1)" font-size="10.3" text-anchor="end" stroke="#000" stroke-width="0.2">40</text><text transform="translate(739.70 246.85) scale(1 1.1)" font-size="10.3" text-anchor="end" stroke="#000" stroke-width="0.2">0</text><path d="M763.10 241.45V236.35M773.40 241.45V189.15" stroke="#e7298a" stroke-width="3.3" stroke-linecap="round" fill="none"/><text x="763.10" y="256.65" font-size="9.5" text-anchor="middle" stroke="#000" stroke-width="0.05">T</text><text x="773.40" y="256.65" font-size="9.5" text-anchor="middle" stroke="#000" stroke-width="0.05">N</text></g>
<g><text transform="translate(1.00 285.40) scale(1 1.08)" font-size="19.5" stroke="#000" stroke-width="0.2">C</text><text x="20.90" y="287.40" font-size="14.6" stroke="#000" stroke-width="0.2">United States bladder cancer with high proportion of A:T&gt;T:A mutations</text><text x="483.90" y="287.40" font-size="14.56" stroke="#000" stroke-width="0.2">(TCGA-K4-A6FZ-01A-11D-A31L-08)</text><line x1="88.95" y1="312.8" x2="186.23" y2="312.8" stroke="#1b9e77" stroke-width="2.2"/><text transform="translate(128.29 308.00) scale(1 1.04)" font-size="13" text-anchor="middle" stroke="#000" stroke-width="0.2">C&gt;A</text><text transform="translate(166.39 307.40) scale(1 0.9)" font-size="9.5" text-anchor="middle" stroke="#000" stroke-width="0.2">(33)</text><path d="M89.25 371.80V370.30 M95.69 371.80V370.50 M102.14 371.80V371.80 M108.59 371.80V369.20 M115.03 371.80V369.20 M121.47 371.80V368.20 M127.92 371.80V367.80 M134.37 371.80V368.20 M140.81 371.80V370.90 M147.25 371.80V371.80 M153.70 371.80V369.20 M160.15 371.80V368.80 M166.59 371.80V364.30 M173.03 371.80V368.80 M179.48 371.80V371.80 M185.93 371.80V369.80" stroke="#1b9e77" stroke-width="3.45" stroke-linecap="round" fill="none"/><text x="89.25" y="382.60" font-size="6.3" text-anchor="middle" stroke="#000" stroke-width="0.1">A</text><text x="89.25" y="388.70" font-size="6.3" text-anchor="middle" stroke="#000" stroke-width="0.1">A</text><text x="95.69" y="391.10" font-size="6.3" text-anchor="middle" stroke="#000" stroke-width="0.1">C</text><text x="102.14" y="393.20" font-size="6.3" text-anchor="middle" stroke="#000" stroke-width="0.1">G</text><text x="108.59" y="395.00" font-size="6.3" text-anchor="middle" stroke="#000" stroke-width="0.1">T</text><text x="115.03" y="382.60" font-size="6.3" text-anchor="middle" stroke="#000" stroke-width="0.1">C</text><text x="115.03" y="388.70" font-size="6.3" text-anchor="middle" stroke="#000" stroke-width="0.1">A</text><text x="121.47" y="391.10" font-size="6.3" text-anchor="middle" stroke="#000" stroke-width="0.1">C</text><text x="127.92" y="393.20" font-size="6.3" text-anchor="middle" stroke="#000" stroke-width="0.1">G</text><text x="134.37" y="395.00" font-size="6.3" text-anchor="middle" stroke="#000" stroke-width="0.1">T</text><text x="140.81" y="382.60" font-size="6.3" text-anchor="middle" stroke="#000" stroke-width="0.1">G</text><text x="140.81" y="388.70" font-size="6.3" text-anchor="middle" stroke="#000" stroke-width="0.1">A</text><text x="147.25" y="391.10" font-size="6.3" text-anchor="middle" stroke="#000" stroke-width="0.1">C</text><text x="153.70" y="393.20" font-size="6.3" text-anchor="middle" stroke="#000" stroke-width="0.1">G</text><text x="160.15" y="395.00" font-size="6.3" text-anchor="middle" stroke="#000" stroke-width="0.1">T</text><text x="166.59" y="382.60" font-size="6.3" text-anchor="middle" stroke="#000" stroke-width="0.1">T</text><text x="166.59" y="388.70" font-size="6.3" text-anchor="middle" stroke="#000" stroke-width="0.1">A</text><text x="173.03" y="391.10" font-size="6.3" text-anchor="middle" stroke="#000" stroke-width="0.1">C</text><text x="179.48" y="393.20" font-size="6.3" text-anchor="middle" stroke="#000" stroke-width="0.1">G</text><text x="185.93" y="395.00" font-size="6.3" text-anchor="middle" stroke="#000" stroke-width="0.1">T</text><line x1="192.07" y1="312.8" x2="289.35" y2="312.8" stroke="#d95f02" stroke-width="2.2"/><text transform="translate(231.41 308.00) scale(1 1.04)" font-size="13" text-anchor="middle" stroke="#000" stroke-width="0.2">C&gt;G</text><text transform="translate(269.51 307.40) scale(1 0.9)" font-size="9.5" text-anchor="middle" stroke="#000" stroke-width="0.2">(76)</text><path d="M192.37 371.80V370.50 M198.81 371.80V369.20 M205.26 371.80V368.40 M211.71 371.80V371.80 M218.15 371.80V370.80 M224.59 371.80V371.80 M231.04 371.80V371.80 M237.49 371.80V370.50 M243.93 371.80V369.40 M250.38 371.80V371.80 M256.82 371.80V369.20 M263.26 371.80V369.40 M269.71 371.80V350.90 M276.15 371.80V364.10 M282.60 371.80V355.10 M289.05 371.80V344.30" stroke="#d95f02" stroke-width="3.45" stroke-linecap="round" fill="none"/><text x="192.37" y="382.60" font-size="6.3" text-anchor="middle" stroke="#000" stroke-width="0.1">A</text><text x="192.37" y="388.70" font-size="6.3" text-anchor="middle" stroke="#000" stroke-width="0.1">A</text><text x="198.81" y="391.10" font-size="6.3" text-anchor="middle" stroke="#000" stroke-width="0.1">C</text><text x="205.26" y="393.20" font-size="6.3" text-anchor="middle" stroke="#000" stroke-width="0.1">G</text><text x="211.71" y="395.00" font-size="6.3" text-anchor="middle" stroke="#000" stroke-width="0.1">T</text><text x="218.15" y="382.60" font-size="6.3" text-anchor="middle" stroke="#000" stroke-width="0.1">C</text><text x="218.15" y="388.70" font-size="6.3" text-anchor="middle" stroke="#000" stroke-width="0.1">A</text><text x="224.59" y="391.10" font-size="6.3" text-anchor="middle" stroke="#000" stroke-width="0.1">C</text><text x="231.04" y="393.20" font-size="6.3" text-anchor="middle" stroke="#000" stroke-width="0.1">G</text><text x="237.49" y="395.00" font-size="6.3" text-anchor="middle" stroke="#000" stroke-width="0.1">T</text><text x="243.93" y="382.60" font-size="6.3" text-anchor="middle" stroke="#000" stroke-width="0.1">G</text><text x="243.93" y="388.70" font-size="6.3" text-anchor="middle" stroke="#000" stroke-width="0.1">A</text><text x="250.38" y="391.10" font-size="6.3" text-anchor="middle" stroke="#000" stroke-width="0.1">C</text><text x="256.82" y="393.20" font-size="6.3" text-anchor="middle" stroke="#000" stroke-width="0.1">G</text><text x="263.26" y="395.00" font-size="6.3" text-anchor="middle" stroke="#000" stroke-width="0.1">T</text><text x="269.71" y="382.60" font-size="6.3" text-anchor="middle" stroke="#000" stroke-width="0.1">T</text><text x="269.71" y="388.70" font-size="6.3" text-anchor="middle" stroke="#000" stroke-width="0.1">A</text><text x="276.15" y="391.10" font-size="6.3" text-anchor="middle" stroke="#000" stroke-width="0.1">C</text><text x="282.60" y="393.20" font-size="6.3" text-anchor="middle" stroke="#000" stroke-width="0.1">G</text><text x="289.05" y="395.00" font-size="6.3" text-anchor="middle" stroke="#000" stroke-width="0.1">T</text><line x1="295.19" y1="312.8" x2="392.47" y2="312.8" stroke="#7570b3" stroke-width="2.2"/><text transform="translate(334.53 308.00) scale(1 1.04)" font-size="13" text-anchor="middle" stroke="#000" stroke-width="0.2">C&gt;T</text><text transform="translate(372.63 307.40) scale(1 0.9)" font-size="9.5" text-anchor="middle" stroke="#000" stroke-width="0.2">(151)</text><path d="M295.49 371.80V371.00 M301.94 371.80V368.10 M308.38 371.80V348.50 M314.83 371.80V367.80 M321.27 371.80V368.50 M327.72 371.80V368.10 M334.16 371.80V365.70 M340.61 371.80V370.10 M347.05 371.80V369.70 M353.50 371.80V369.70 M359.94 371.80V362.10 M366.38 371.80V371.00 M372.83 371.80V320.50 M379.28 371.80V349.60 M385.72 371.80V315.60 M392.17 371.80V352.20" stroke="#7570b3" stroke-width="3.45" stroke-linecap="round" fill="none"/><text x="295.49" y="382.60" font-size="6.3" text-anchor="middle" stroke="#000" stroke-width="0.1">A</text><text x="295.49" y="388.70" font-size="6.3" text-anchor="middle" stroke="#000" stroke-width="0.1">A</text><text x="301.94" y="391.10" font-size="6.3" text-anchor="middle" stroke="#000" stroke-width="0.1">C</text><text x="308.38" y="393.20" font-size="6.3" text-anchor="middle" stroke="#000" stroke-width="0.1">G</text><text x="314.83" y="395.00" font-size="6.3" text-anchor="middle" stroke="#000" stroke-width="0.1">T</text><text x="321.27" y="382.60" font-size="6.3" text-anchor="middle" stroke="#000" stroke-width="0.1">C</text><text x="321.27" y="388.70" font-size="6.3" text-anchor="middle" stroke="#000" stroke-width="0.1">A</text><text x="327.72" y="391.10" font-size="6.3" text-anchor="middle" stroke="#000" stroke-width="0.1">C</text><text x="334.16" y="393.20" font-size="6.3" text-anchor="middle" stroke="#000" stroke-width="0.1">G</text><text x="340.61" y="395.00" font-size="6.3" text-anchor="middle" stroke="#000" stroke-width="0.1">T</text><text x="347.05" y="382.60" font-size="6.3" text-anchor="middle" stroke="#000" stroke-width="0.1">G</text><text x="347.05" y="388.70" font-size="6.3" text-anchor="middle" stroke="#000" stroke-width="0.1">A</text><text x="353.50" y="391.10" font-size="6.3" text-anchor="middle" stroke="#000" stroke-width="0.1">C</text><text x="359.94" y="393.20" font-size="6.3" text-anchor="middle" stroke="#000" stroke-width="0.1">G</text><text x="366.38" y="395.00" font-size="6.3" text-anchor="middle" stroke="#000" stroke-width="0.1">T</text><text x="372.83" y="382.60" font-size="6.3" text-anchor="middle" stroke="#000" stroke-width="0.1">T</text><text x="372.83" y="388.70" font-size="6.3" text-anchor="middle" stroke="#000" stroke-width="0.1">A</text><text x="379.28" y="391.10" font-size="6.3" text-anchor="middle" stroke="#000" stroke-width="0.1">C</text><text x="385.72" y="393.20" font-size="6.3" text-anchor="middle" stroke="#000" stroke-width="0.1">G</text><text x="392.17" y="395.00" font-size="6.3" text-anchor="middle" stroke="#000" stroke-width="0.1">T</text><line x1="398.31" y1="312.8" x2="495.59" y2="312.8" stroke="#e7298a" stroke-width="2.2"/><text transform="translate(437.65 308.00) scale(1 1.04)" font-size="13" text-anchor="middle" stroke="#000" stroke-width="0.2">A:T&gt;T:A</text><text transform="translate(475.75 307.40) scale(1 0.9)" font-size="9.5" text-anchor="middle" stroke="#000" stroke-width="0.2">(83)</text><path d="M398.61 371.80V371.80 M405.06 371.80V356.20 M411.50 371.80V367.40 M417.94 371.80V370.50 M424.39 371.80V371.80 M430.84 371.80V355.50 M437.28 371.80V364.40 M443.73 371.80V365.50 M450.17 371.80V369.40 M456.62 371.80V365.70 M463.06 371.80V367.40 M469.50 371.80V368.80 M475.95 371.80V369.70 M482.40 371.80V361.50 M488.84 371.80V367.40 M495.29 371.80V368.10" stroke="#e7298a" stroke-width="3.45" stroke-linecap="round" fill="none"/><text x="398.61" y="382.60" font-size="6.3" text-anchor="middle" stroke="#000" stroke-width="0.1">A</text><text x="398.61" y="388.70" font-size="6.3" text-anchor="middle" stroke="#000" stroke-width="0.1">A</text><text x="405.06" y="391.10" font-size="6.3" text-anchor="middle" stroke="#000" stroke-width="0.1">C</text><text x="411.50" y="393.20" font-size="6.3" text-anchor="middle" stroke="#000" stroke-width="0.1">G</text><text x="417.94" y="395.00" font-size="6.3" text-anchor="middle" stroke="#000" stroke-width="0.1">T</text><text x="424.39" y="382.60" font-size="6.3" text-anchor="middle" stroke="#000" stroke-width="0.1">C</text><text x="424.39" y="388.70" font-size="6.3" text-anchor="middle" stroke="#000" stroke-width="0.1">A</text><text x="430.84" y="391.10" font-size="6.3" text-anchor="middle" stroke="#000" stroke-width="0.1">C</text><text x="437.28" y="393.20" font-size="6.3" text-anchor="middle" stroke="#000" stroke-width="0.1">G</text><text x="443.73" y="395.00" font-size="6.3" text-anchor="middle" stroke="#000" stroke-width="0.1">T</text><text x="450.17" y="382.60" font-size="6.3" text-anchor="middle" stroke="#000" stroke-width="0.1">G</text><text x="450.17" y="388.70" font-size="6.3" text-anchor="middle" stroke="#000" stroke-width="0.1">A</text><text x="456.62" y="391.10" font-size="6.3" text-anchor="middle" stroke="#000" stroke-width="0.1">C</text><text x="463.06" y="393.20" font-size="6.3" text-anchor="middle" stroke="#000" stroke-width="0.1">G</text><text x="469.50" y="395.00" font-size="6.3" text-anchor="middle" stroke="#000" stroke-width="0.1">T</text><text x="475.95" y="382.60" font-size="6.3" text-anchor="middle" stroke="#000" stroke-width="0.1">T</text><text x="475.95" y="388.70" font-size="6.3" text-anchor="middle" stroke="#000" stroke-width="0.1">A</text><text x="482.40" y="391.10" font-size="6.3" text-anchor="middle" stroke="#000" stroke-width="0.1">C</text><text x="488.84" y="393.20" font-size="6.3" text-anchor="middle" stroke="#000" stroke-width="0.1">G</text><text x="495.29" y="395.00" font-size="6.3" text-anchor="middle" stroke="#000" stroke-width="0.1">T</text><line x1="501.43" y1="312.8" x2="598.70" y2="312.8" stroke="#66a61e" stroke-width="2.2"/><text transform="translate(540.77 308.00) scale(1 1.04)" font-size="13" text-anchor="middle" stroke="#000" stroke-width="0.2">T&gt;C</text><text transform="translate(578.87 307.40) scale(1 0.9)" font-size="9.5" text-anchor="middle" stroke="#000" stroke-width="0.2">(102)</text><path d="M501.73 371.80V371.80 M508.18 371.80V364.40 M514.62 371.80V364.80 M521.07 371.80V367.40 M527.51 371.80V369.20 M533.96 371.80V362.50 M540.40 371.80V370.10 M546.85 371.80V367.80 M553.29 371.80V362.10 M559.74 371.80V340.60 M566.18 371.80V361.20 M572.62 371.80V362.50 M579.07 371.80V368.10 M585.52 371.80V357.90 M591.96 371.80V362.10 M598.40 371.80V368.10" stroke="#66a61e" stroke-width="3.45" stroke-linecap="round" fill="none"/><text x="501.73" y="382.60" font-size="6.3" text-anchor="middle" stroke="#000" stroke-width="0.1">A</text><text x="501.73" y="388.70" font-size="6.3" text-anchor="middle" stroke="#000" stroke-width="0.1">A</text><text x="508.18" y="391.10" font-size="6.3" text-anchor="middle" stroke="#000" stroke-width="0.1">C</text><text x="514.62" y="393.20" font-size="6.3" text-anchor="middle" stroke="#000" stroke-width="0.1">G</text><text x="521.07" y="395.00" font-size="6.3" text-anchor="middle" stroke="#000" stroke-width="0.1">T</text><text x="527.51" y="382.60" font-size="6.3" text-anchor="middle" stroke="#000" stroke-width="0.1">C</text><text x="527.51" y="388.70" font-size="6.3" text-anchor="middle" stroke="#000" stroke-width="0.1">A</text><text x="533.96" y="391.10" font-size="6.3" text-anchor="middle" stroke="#000" stroke-width="0.1">C</text><text x="540.40" y="393.20" font-size="6.3" text-anchor="middle" stroke="#000" stroke-width="0.1">G</text><text x="546.85" y="395.00" font-size="6.3" text-anchor="middle" stroke="#000" stroke-width="0.1">T</text><text x="553.29" y="382.60" font-size="6.3" text-anchor="middle" stroke="#000" stroke-width="0.1">G</text><text x="553.29" y="388.70" font-size="6.3" text-anchor="middle" stroke="#000" stroke-width="0.1">A</text><text x="559.74" y="391.10" font-size="6.3" text-anchor="middle" stroke="#000" stroke-width="0.1">C</text><text x="566.18" y="393.20" font-size="6.3" text-anchor="middle" stroke="#000" stroke-width="0.1">G</text><text x="572.62" y="395.00" font-size="6.3" text-anchor="middle" stroke="#000" stroke-width="0.1">T</text><text x="579.07" y="382.60" font-size="6.3" text-anchor="middle" stroke="#000" stroke-width="0.1">T</text><text x="579.07" y="388.70" font-size="6.3" text-anchor="middle" stroke="#000" stroke-width="0.1">A</text><text x="585.52" y="391.10" font-size="6.3" text-anchor="middle" stroke="#000" stroke-width="0.1">C</text><text x="591.96" y="393.20" font-size="6.3" text-anchor="middle" stroke="#000" stroke-width="0.1">G</text><text x="598.40" y="395.00" font-size="6.3" text-anchor="middle" stroke="#000" stroke-width="0.1">T</text><line x1="604.55" y1="312.8" x2="701.82" y2="312.8" stroke="#a6761d" stroke-width="2.2"/><text transform="translate(643.89 308.00) scale(1 1.04)" font-size="13" text-anchor="middle" stroke="#000" stroke-width="0.2">T&gt;G</text><text transform="translate(681.99 307.40) scale(1 0.9)" font-size="9.5" text-anchor="middle" stroke="#000" stroke-width="0.2">(16)</text><path d="M604.85 371.80V371.80 M611.30 371.80V371.80 M617.74 371.80V371.80 M624.19 371.80V371.80 M630.63 371.80V371.80 M637.08 371.80V367.40 M643.52 371.80V369.20 M649.97 371.80V368.80 M656.41 371.80V371.80 M662.86 371.80V371.80 M669.30 371.80V371.80 M675.75 371.80V368.80 M682.19 371.80V371.80 M688.63 371.80V370.50 M695.08 371.80V369.40 M701.52 371.80V371.80" stroke="#a6761d" stroke-width="3.45" stroke-linecap="round" fill="none"/><text x="604.85" y="382.60" font-size="6.3" text-anchor="middle" stroke="#000" stroke-width="0.1">A</text><text x="604.85" y="388.70" font-size="6.3" text-anchor="middle" stroke="#000" stroke-width="0.1">A</text><text x="611.30" y="391.10" font-size="6.3" text-anchor="middle" stroke="#000" stroke-width="0.1">C</text><text x="617.74" y="393.20" font-size="6.3" text-anchor="middle" stroke="#000" stroke-width="0.1">G</text><text x="624.19" y="395.00" font-size="6.3" text-anchor="middle" stroke="#000" stroke-width="0.1">T</text><text x="630.63" y="382.60" font-size="6.3" text-anchor="middle" stroke="#000" stroke-width="0.1">C</text><text x="630.63" y="388.70" font-size="6.3" text-anchor="middle" stroke="#000" stroke-width="0.1">A</text><text x="637.08" y="391.10" font-size="6.3" text-anchor="middle" stroke="#000" stroke-width="0.1">C</text><text x="643.52" y="393.20" font-size="6.3" text-anchor="middle" stroke="#000" stroke-width="0.1">G</text><text x="649.97" y="395.00" font-size="6.3" text-anchor="middle" stroke="#000" stroke-width="0.1">T</text><text x="656.41" y="382.60" font-size="6.3" text-anchor="middle" stroke="#000" stroke-width="0.1">G</text><text x="656.41" y="388.70" font-size="6.3" text-anchor="middle" stroke="#000" stroke-width="0.1">A</text><text x="662.86" y="391.10" font-size="6.3" text-anchor="middle" stroke="#000" stroke-width="0.1">C</text><text x="669.30" y="393.20" font-size="6.3" text-anchor="middle" stroke="#000" stroke-width="0.1">G</text><text x="675.75" y="395.00" font-size="6.3" text-anchor="middle" stroke="#000" stroke-width="0.1">T</text><text x="682.19" y="382.60" font-size="6.3" text-anchor="middle" stroke="#000" stroke-width="0.1">T</text><text x="682.19" y="388.70" font-size="6.3" text-anchor="middle" stroke="#000" stroke-width="0.1">A</text><text x="688.63" y="391.10" font-size="6.3" text-anchor="middle" stroke="#000" stroke-width="0.1">C</text><text x="695.08" y="393.20" font-size="6.3" text-anchor="middle" stroke="#000" stroke-width="0.1">G</text><text x="701.52" y="395.00" font-size="6.3" text-anchor="middle" stroke="#000" stroke-width="0.1">T</text><path d="M58.20 316.2H65.00V371.8H58.20" stroke="#000" stroke-width="1.4" fill="none"/><text x="52.30" y="321.20" font-size="10" text-anchor="end" stroke="#000" stroke-width="0.2">0.1</text><text x="52.30" y="377.00" font-size="10" text-anchor="end" stroke="#000" stroke-width="0.2">0.0</text><text transform="translate(23.80 344.00) rotate(-90)" font-size="10.5" text-anchor="middle" stroke="#000" stroke-width="0.2">proportion</text><text x="79.50" y="384.70" font-size="8" text-anchor="end" stroke="#000" stroke-width="0.1">preceded by 5'</text><text x="79.00" y="392.40" font-size="8" text-anchor="end" stroke="#000" stroke-width="0.1">followed by 3'</text><path d="M746.20 316.0H753.20V371.75H746.20" stroke="#000" stroke-width="1.4" fill="none"/><text transform="translate(740.30 321.60) scale(1 1.1)" font-size="10.3" text-anchor="end" stroke="#000" stroke-width="0.2">60</text><text transform="translate(740.80 377.35) scale(1 1.1)" font-size="10.3" text-anchor="end" stroke="#000" stroke-width="0.2">0</text><path d="M764.20 371.95V343.05M774.50 371.95V323.35" stroke="#e7298a" stroke-width="3.3" stroke-linecap="round" fill="none"/><text x="764.20" y="387.15" font-size="9.5" text-anchor="middle" stroke="#000" stroke-width="0.05">T</text><text x="774.50" y="387.15" font-size="9.5" text-anchor="middle" stroke="#000" stroke-width="0.05">N</text></g>
<g><text transform="translate(1.00 411.00) scale(1 1.08)" font-size="19" stroke="#000" stroke-width="0.2">D</text><text transform="translate(19.80 412.60) scale(1 1.12)" font-size="13.2" stroke="#000" stroke-width="0.2">AA-HCC</text><text transform="translate(77.20 412.60) scale(1 1.12)" font-size="13.2" stroke="#000" stroke-width="0.2">(HK41T)</text><line x1="88.65" y1="435.5" x2="185.93" y2="435.5" stroke="#1b9e77" stroke-width="2.2"/><text transform="translate(127.99 430.60) scale(1 1.04)" font-size="13" text-anchor="middle" stroke="#000" stroke-width="0.2">C&gt;A</text><text transform="translate(166.09 430.00) scale(1 0.9)" font-size="9.5" text-anchor="middle" stroke="#000" stroke-width="0.2">(21)</text><path d="M88.95 494.40V493.90 M95.40 494.40V493.90 M101.84 494.40V494.10 M108.28 494.40V494.10 M114.73 494.40V492.90 M121.18 494.40V493.90 M127.62 494.40V492.90 M134.06 494.40V494.10 M140.51 494.40V493.90 M146.96 494.40V493.90 M153.40 494.40V494.10 M159.85 494.40V493.40 M166.29 494.40V493.40 M172.74 494.40V493.40 M179.18 494.40V493.40 M185.62 494.40V493.40" stroke="#1b9e77" stroke-width="3.45" stroke-linecap="round" fill="none"/><text x="88.95" y="505.20" font-size="6.3" text-anchor="middle" stroke="#000" stroke-width="0.1">A</text><text x="88.95" y="511.30" font-size="6.3" text-anchor="middle" stroke="#000" stroke-width="0.1">A</text><text x="95.40" y="513.70" font-size="6.3" text-anchor="middle" stroke="#000" stroke-width="0.1">C</text><text x="101.84" y="515.80" font-size="6.3" text-anchor="middle" stroke="#000" stroke-width="0.1">G</text><text x="108.28" y="517.60" font-size="6.3" text-anchor="middle" stroke="#000" stroke-width="0.1">T</text><text x="114.73" y="505.20" font-size="6.3" text-anchor="middle" stroke="#000" stroke-width="0.1">C</text><text x="114.73" y="511.30" font-size="6.3" text-anchor="middle" stroke="#000" stroke-width="0.1">A</text><text x="121.18" y="513.70" font-size="6.3" text-anchor="middle" stroke="#000" stroke-width="0.1">C</text><text x="127.62" y="515.80" font-size="6.3" text-anchor="middle" stroke="#000" stroke-width="0.1">G</text><text x="134.06" y="517.60" font-size="6.3" text-anchor="middle" stroke="#000" stroke-width="0.1">T</text><text x="140.51" y="505.20" font-size="6.3" text-anchor="middle" stroke="#000" stroke-width="0.1">G</text><text x="140.51" y="511.30" font-size="6.3" text-anchor="middle" stroke="#000" stroke-width="0.1">A</text><text x="146.96" y="513.70" font-size="6.3" text-anchor="middle" stroke="#000" stroke-width="0.1">C</text><text x="153.40" y="515.80" font-size="6.3" text-anchor="middle" stroke="#000" stroke-width="0.1">G</text><text x="159.85" y="517.60" font-size="6.3" text-anchor="middle" stroke="#000" stroke-width="0.1">T</text><text x="166.29" y="505.20" font-size="6.3" text-anchor="middle" stroke="#000" stroke-width="0.1">T</text><text x="166.29" y="511.30" font-size="6.3" text-anchor="middle" stroke="#000" stroke-width="0.1">A</text><text x="172.74" y="513.70" font-size="6.3" text-anchor="middle" stroke="#000" stroke-width="0.1">C</text><text x="179.18" y="515.80" font-size="6.3" text-anchor="middle" stroke="#000" stroke-width="0.1">G</text><text x="185.62" y="517.60" font-size="6.3" text-anchor="middle" stroke="#000" stroke-width="0.1">T</text><line x1="191.77" y1="435.5" x2="289.05" y2="435.5" stroke="#d95f02" stroke-width="2.2"/><text transform="translate(231.11 430.60) scale(1 1.04)" font-size="13" text-anchor="middle" stroke="#000" stroke-width="0.2">C&gt;G</text><text transform="translate(269.21 430.00) scale(1 0.9)" font-size="9.5" text-anchor="middle" stroke="#000" stroke-width="0.2">(10)</text><path d="M192.07 494.40V494.10 M198.51 494.40V494.10 M204.96 494.40V494.10 M211.41 494.40V493.90 M217.85 494.40V494.10 M224.30 494.40V494.10 M230.74 494.40V494.10 M237.19 494.40V494.10 M243.63 494.40V494.10 M250.07 494.40V493.90 M256.52 494.40V494.10 M262.97 494.40V494.10 M269.41 494.40V492.90 M275.86 494.40V493.90 M282.30 494.40V491.90 M288.75 494.40V493.40" stroke="#d95f02" stroke-width="3.45" stroke-linecap="round" fill="none"/><text x="192.07" y="505.20" font-size="6.3" text-anchor="middle" stroke="#000" stroke-width="0.1">A</text><text x="192.07" y="511.30" font-size="6.3" text-anchor="middle" stroke="#000" stroke-width="0.1">A</text><text x="198.51" y="513.70" font-size="6.3" text-anchor="middle" stroke="#000" stroke-width="0.1">C</text><text x="204.96" y="515.80" font-size="6.3" text-anchor="middle" stroke="#000" stroke-width="0.1">G</text><text x="211.41" y="517.60" font-size="6.3" text-anchor="middle" stroke="#000" stroke-width="0.1">T</text><text x="217.85" y="505.20" font-size="6.3" text-anchor="middle" stroke="#000" stroke-width="0.1">C</text><text x="217.85" y="511.30" font-size="6.3" text-anchor="middle" stroke="#000" stroke-width="0.1">A</text><text x="224.30" y="513.70" font-size="6.3" text-anchor="middle" stroke="#000" stroke-width="0.1">C</text><text x="230.74" y="515.80" font-size="6.3" text-anchor="middle" stroke="#000" stroke-width="0.1">G</text><text x="237.19" y="517.60" font-size="6.3" text-anchor="middle" stroke="#000" stroke-width="0.1">T</text><text x="243.63" y="505.20" font-size="6.3" text-anchor="middle" stroke="#000" stroke-width="0.1">G</text><text x="243.63" y="511.30" font-size="6.3" text-anchor="middle" stroke="#000" stroke-width="0.1">A</text><text x="250.07" y="513.70" font-size="6.3" text-anchor="middle" stroke="#000" stroke-width="0.1">C</text><text x="256.52" y="515.80" font-size="6.3" text-anchor="middle" stroke="#000" stroke-width="0.1">G</text><text x="262.97" y="517.60" font-size="6.3" text-anchor="middle" stroke="#000" stroke-width="0.1">T</text><text x="269.41" y="505.20" font-size="6.3" text-anchor="middle" stroke="#000" stroke-width="0.1">T</text><text x="269.41" y="511.30" font-size="6.3" text-anchor="middle" stroke="#000" stroke-width="0.1">A</text><text x="275.86" y="513.70" font-size="6.3" text-anchor="middle" stroke="#000" stroke-width="0.1">C</text><text x="282.30" y="515.80" font-size="6.3" text-anchor="middle" stroke="#000" stroke-width="0.1">G</text><text x="288.75" y="517.60" font-size="6.3" text-anchor="middle" stroke="#000" stroke-width="0.1">T</text><line x1="294.89" y1="435.5" x2="392.17" y2="435.5" stroke="#7570b3" stroke-width="2.2"/><text transform="translate(334.23 430.60) scale(1 1.04)" font-size="13" text-anchor="middle" stroke="#000" stroke-width="0.2">C&gt;T</text><text transform="translate(372.33 430.00) scale(1 0.9)" font-size="9.5" text-anchor="middle" stroke="#000" stroke-width="0.2">(35)</text><path d="M295.19 494.40V493.90 M301.63 494.40V493.90 M308.08 494.40V491.80 M314.53 494.40V494.10 M320.97 494.40V493.90 M327.42 494.40V491.80 M333.86 494.40V490.70 M340.31 494.40V493.40 M346.75 494.40V494.10 M353.19 494.40V493.40 M359.64 494.40V490.70 M366.08 494.40V494.10 M372.53 494.40V493.90 M378.98 494.40V493.90 M385.42 494.40V493.90 M391.87 494.40V493.90" stroke="#7570b3" stroke-width="3.45" stroke-linecap="round" fill="none"/><text x="295.19" y="505.20" font-size="6.3" text-anchor="middle" stroke="#000" stroke-width="0.1">A</text><text x="295.19" y="511.30" font-size="6.3" text-anchor="middle" stroke="#000" stroke-width="0.1">A</text><text x="301.63" y="513.70" font-size="6.3" text-anchor="middle" stroke="#000" stroke-width="0.1">C</text><text x="308.08" y="515.80" font-size="6.3" text-anchor="middle" stroke="#000" stroke-width="0.1">G</text><text x="314.53" y="517.60" font-size="6.3" text-anchor="middle" stroke="#000" stroke-width="0.1">T</text><text x="320.97" y="505.20" font-size="6.3" text-anchor="middle" stroke="#000" stroke-width="0.1">C</text><text x="320.97" y="511.30" font-size="6.3" text-anchor="middle" stroke="#000" stroke-width="0.1">A</text><text x="327.42" y="513.70" font-size="6.3" text-anchor="middle" stroke="#000" stroke-width="0.1">C</text><text x="333.86" y="515.80" font-size="6.3" text-anchor="middle" stroke="#000" stroke-width="0.1">G</text><text x="340.31" y="517.60" font-size="6.3" text-anchor="middle" stroke="#000" stroke-width="0.1">T</text><text x="346.75" y="505.20" font-size="6.3" text-anchor="middle" stroke="#000" stroke-width="0.1">G</text><text x="346.75" y="511.30" font-size="6.3" text-anchor="middle" stroke="#000" stroke-width="0.1">A</text><text x="353.19" y="513.70" font-size="6.3" text-anchor="middle" stroke="#000" stroke-width="0.1">C</text><text x="359.64" y="515.80" font-size="6.3" text-anchor="middle" stroke="#000" stroke-width="0.1">G</text><text x="366.08" y="517.60" font-size="6.3" text-anchor="middle" stroke="#000" stroke-width="0.1">T</text><text x="372.53" y="505.20" font-size="6.3" text-anchor="middle" stroke="#000" stroke-width="0.1">T</text><text x="372.53" y="511.30" font-size="6.3" text-anchor="middle" stroke="#000" stroke-width="0.1">A</text><text x="378.98" y="513.70" font-size="6.3" text-anchor="middle" stroke="#000" stroke-width="0.1">C</text><text x="385.42" y="515.80" font-size="6.3" text-anchor="middle" stroke="#000" stroke-width="0.1">G</text><text x="391.87" y="517.60" font-size="6.3" text-anchor="middle" stroke="#000" stroke-width="0.1">T</text><line x1="398.01" y1="435.5" x2="495.29" y2="435.5" stroke="#e7298a" stroke-width="2.2"/><text transform="translate(437.35 430.60) scale(1 1.04)" font-size="13" text-anchor="middle" stroke="#000" stroke-width="0.2">A:T&gt;T:A</text><text transform="translate(475.45 430.00) scale(1 0.9)" font-size="9.5" text-anchor="middle" stroke="#000" stroke-width="0.2">(630)</text><path d="M398.31 494.40V473.50 M404.75 494.40V490.40 M411.20 494.40V465.30 M417.64 494.40V488.30 M424.09 494.40V453.70 M430.54 494.40V474.60 M436.98 494.40V438.80 M443.43 494.40V475.90 M449.87 494.40V462.90 M456.31 494.40V487.00 M462.76 494.40V478.50 M469.20 494.40V491.40 M475.65 494.40V469.50 M482.10 494.40V485.40 M488.54 494.40V468.50 M494.99 494.40V489.40" stroke="#e7298a" stroke-width="3.45" stroke-linecap="round" fill="none"/><text x="398.31" y="505.20" font-size="6.3" text-anchor="middle" stroke="#000" stroke-width="0.1">A</text><text x="398.31" y="511.30" font-size="6.3" text-anchor="middle" stroke="#000" stroke-width="0.1">A</text><text x="404.75" y="513.70" font-size="6.3" text-anchor="middle" stroke="#000" stroke-width="0.1">C</text><text x="411.20" y="515.80" font-size="6.3" text-anchor="middle" stroke="#000" stroke-width="0.1">G</text><text x="417.64" y="517.60" font-size="6.3" text-anchor="middle" stroke="#000" stroke-width="0.1">T</text><text x="424.09" y="505.20" font-size="6.3" text-anchor="middle" stroke="#000" stroke-width="0.1">C</text><text x="424.09" y="511.30" font-size="6.3" text-anchor="middle" stroke="#000" stroke-width="0.1">A</text><text x="430.54" y="513.70" font-size="6.3" text-anchor="middle" stroke="#000" stroke-width="0.1">C</text><text x="436.98" y="515.80" font-size="6.3" text-anchor="middle" stroke="#000" stroke-width="0.1">G</text><text x="443.43" y="517.60" font-size="6.3" text-anchor="middle" stroke="#000" stroke-width="0.1">T</text><text x="449.87" y="505.20" font-size="6.3" text-anchor="middle" stroke="#000" stroke-width="0.1">G</text><text x="449.87" y="511.30" font-size="6.3" text-anchor="middle" stroke="#000" stroke-width="0.1">A</text><text x="456.31" y="513.70" font-size="6.3" text-anchor="middle" stroke="#000" stroke-width="0.1">C</text><text x="462.76" y="515.80" font-size="6.3" text-anchor="middle" stroke="#000" stroke-width="0.1">G</text><text x="469.20" y="517.60" font-size="6.3" text-anchor="middle" stroke="#000" stroke-width="0.1">T</text><text x="475.65" y="505.20" font-size="6.3" text-anchor="middle" stroke="#000" stroke-width="0.1">T</text><text x="475.65" y="511.30" font-size="6.3" text-anchor="middle" stroke="#000" stroke-width="0.1">A</text><text x="482.10" y="513.70" font-size="6.3" text-anchor="middle" stroke="#000" stroke-width="0.1">C</text><text x="488.54" y="515.80" font-size="6.3" text-anchor="middle" stroke="#000" stroke-width="0.1">G</text><text x="494.99" y="517.60" font-size="6.3" text-anchor="middle" stroke="#000" stroke-width="0.1">T</text><line x1="501.13" y1="435.5" x2="598.40" y2="435.5" stroke="#66a61e" stroke-width="2.2"/><text transform="translate(540.47 430.60) scale(1 1.04)" font-size="13" text-anchor="middle" stroke="#000" stroke-width="0.2">T&gt;C</text><text transform="translate(578.57 430.00) scale(1 0.9)" font-size="9.5" text-anchor="middle" stroke="#000" stroke-width="0.2">(50)</text><path d="M501.43 494.40V483.40 M507.88 494.40V494.10 M514.32 494.40V492.20 M520.76 494.40V492.20 M527.21 494.40V491.40 M533.66 494.40V493.90 M540.10 494.40V492.90 M546.55 494.40V492.90 M552.99 494.40V492.90 M559.44 494.40V493.10 M565.88 494.40V493.10 M572.33 494.40V494.10 M578.77 494.40V491.90 M585.22 494.40V493.90 M591.66 494.40V494.10 M598.11 494.40V493.40" stroke="#66a61e" stroke-width="3.45" stroke-linecap="round" fill="none"/><text x="501.43" y="505.20" font-size="6.3" text-anchor="middle" stroke="#000" stroke-width="0.1">A</text><text x="501.43" y="511.30" font-size="6.3" text-anchor="middle" stroke="#000" stroke-width="0.1">A</text><text x="507.88" y="513.70" font-size="6.3" text-anchor="middle" stroke="#000" stroke-width="0.1">C</text><text x="514.32" y="515.80" font-size="6.3" text-anchor="middle" stroke="#000" stroke-width="0.1">G</text><text x="520.76" y="517.60" font-size="6.3" text-anchor="middle" stroke="#000" stroke-width="0.1">T</text><text x="527.21" y="505.20" font-size="6.3" text-anchor="middle" stroke="#000" stroke-width="0.1">C</text><text x="527.21" y="511.30" font-size="6.3" text-anchor="middle" stroke="#000" stroke-width="0.1">A</text><text x="533.66" y="513.70" font-size="6.3" text-anchor="middle" stroke="#000" stroke-width="0.1">C</text><text x="540.10" y="515.80" font-size="6.3" text-anchor="middle" stroke="#000" stroke-width="0.1">G</text><text x="546.55" y="517.60" font-size="6.3" text-anchor="middle" stroke="#000" stroke-width="0.1">T</text><text x="552.99" y="505.20" font-size="6.3" text-anchor="middle" stroke="#000" stroke-width="0.1">G</text><text x="552.99" y="511.30" font-size="6.3" text-anchor="middle" stroke="#000" stroke-width="0.1">A</text><text x="559.44" y="513.70" font-size="6.3" text-anchor="middle" stroke="#000" stroke-width="0.1">C</text><text x="565.88" y="515.80" font-size="6.3" text-anchor="middle" stroke="#000" stroke-width="0.1">G</text><text x="572.33" y="517.60" font-size="6.3" text-anchor="middle" stroke="#000" stroke-width="0.1">T</text><text x="578.77" y="505.20" font-size="6.3" text-anchor="middle" stroke="#000" stroke-width="0.1">T</text><text x="578.77" y="511.30" font-size="6.3" text-anchor="middle" stroke="#000" stroke-width="0.1">A</text><text x="585.22" y="513.70" font-size="6.3" text-anchor="middle" stroke="#000" stroke-width="0.1">C</text><text x="591.66" y="515.80" font-size="6.3" text-anchor="middle" stroke="#000" stroke-width="0.1">G</text><text x="598.11" y="517.60" font-size="6.3" text-anchor="middle" stroke="#000" stroke-width="0.1">T</text><line x1="604.25" y1="435.5" x2="701.52" y2="435.5" stroke="#a6761d" stroke-width="2.2"/><text transform="translate(643.59 430.60) scale(1 1.04)" font-size="13" text-anchor="middle" stroke="#000" stroke-width="0.2">T&gt;G</text><text transform="translate(681.69 430.00) scale(1 0.9)" font-size="9.5" text-anchor="middle" stroke="#000" stroke-width="0.2">(35)</text><path d="M604.55 494.40V494.10 M611.00 494.40V493.40 M617.44 494.40V491.80 M623.89 494.40V494.10 M630.33 494.40V492.90 M636.78 494.40V494.10 M643.22 494.40V492.60 M649.67 494.40V492.60 M656.11 494.40V492.60 M662.56 494.40V494.10 M669.00 494.40V494.10 M675.45 494.40V494.10 M681.89 494.40V492.90 M688.34 494.40V491.80 M694.78 494.40V493.40 M701.23 494.40V494.10" stroke="#a6761d" stroke-width="3.45" stroke-linecap="round" fill="none"/><text x="604.55" y="505.20" font-size="6.3" text-anchor="middle" stroke="#000" stroke-width="0.1">A</text><text x="604.55" y="511.30" font-size="6.3" text-anchor="middle" stroke="#000" stroke-width="0.1">A</text><text x="611.00" y="513.70" font-size="6.3" text-anchor="middle" stroke="#000" stroke-width="0.1">C</text><text x="617.44" y="515.80" font-size="6.3" text-anchor="middle" stroke="#000" stroke-width="0.1">G</text><text x="623.89" y="517.60" font-size="6.3" text-anchor="middle" stroke="#000" stroke-width="0.1">T</text><text x="630.33" y="505.20" font-size="6.3" text-anchor="middle" stroke="#000" stroke-width="0.1">C</text><text x="630.33" y="511.30" font-size="6.3" text-anchor="middle" stroke="#000" stroke-width="0.1">A</text><text x="636.78" y="513.70" font-size="6.3" text-anchor="middle" stroke="#000" stroke-width="0.1">C</text><text x="643.22" y="515.80" font-size="6.3" text-anchor="middle" stroke="#000" stroke-width="0.1">G</text><text x="649.67" y="517.60" font-size="6.3" text-anchor="middle" stroke="#000" stroke-width="0.1">T</text><text x="656.11" y="505.20" font-size="6.3" text-anchor="middle" stroke="#000" stroke-width="0.1">G</text><text x="656.11" y="511.30" font-size="6.3" text-anchor="middle" stroke="#000" stroke-width="0.1">A</text><text x="662.56" y="513.70" font-size="6.3" text-anchor="middle" stroke="#000" stroke-width="0.1">C</text><text x="669.00" y="515.80" font-size="6.3" text-anchor="middle" stroke="#000" stroke-width="0.1">G</text><text x="675.45" y="517.60" font-size="6.3" text-anchor="middle" stroke="#000" stroke-width="0.1">T</text><text x="681.89" y="505.20" font-size="6.3" text-anchor="middle" stroke="#000" stroke-width="0.1">T</text><text x="681.89" y="511.30" font-size="6.3" text-anchor="middle" stroke="#000" stroke-width="0.1">A</text><text x="688.34" y="513.70" font-size="6.3" text-anchor="middle" stroke="#000" stroke-width="0.1">C</text><text x="694.78" y="515.80" font-size="6.3" text-anchor="middle" stroke="#000" stroke-width="0.1">G</text><text x="701.23" y="517.60" font-size="6.3" text-anchor="middle" stroke="#000" stroke-width="0.1">T</text><path d="M57.90 436.4H64.70V494.4H57.90" stroke="#000" stroke-width="1.4" fill="none"/><text x="52.00" y="441.40" font-size="10" text-anchor="end" stroke="#000" stroke-width="0.2">0.14</text><text x="52.00" y="499.60" font-size="10" text-anchor="end" stroke="#000" stroke-width="0.2">0.00</text><text transform="translate(23.50 465.40) rotate(-90)" font-size="10.5" text-anchor="middle" stroke="#000" stroke-width="0.2">proportion</text><text x="79.20" y="507.30" font-size="8" text-anchor="end" stroke="#000" stroke-width="0.1">preceded by 5'</text><text x="78.70" y="515.00" font-size="8" text-anchor="end" stroke="#000" stroke-width="0.1">followed by 3'</text><path d="M745.90 438.1H752.90V494.25H745.90" stroke="#000" stroke-width="1.4" fill="none"/><text transform="translate(740.00 443.70) scale(1 1.1)" font-size="10.3" text-anchor="end" stroke="#000" stroke-width="0.2">600</text><text transform="translate(740.50 499.85) scale(1 1.1)" font-size="10.3" text-anchor="end" stroke="#000" stroke-width="0.2">0</text><path d="M763.90 494.45V476.75M774.20 494.45V453.35" stroke="#e7298a" stroke-width="3.3" stroke-linecap="round" fill="none"/><text x="763.90" y="509.65" font-size="9.5" text-anchor="middle" stroke="#000" stroke-width="0.05">T</text><text x="774.20" y="509.65" font-size="9.5" text-anchor="middle" stroke="#000" stroke-width="0.05">N</text></g>
<g><text transform="translate(1.00 535.60) scale(1 1.08)" font-size="19" stroke="#000" stroke-width="0.2">E</text><text transform="translate(21.00 539.70) scale(1 1.12)" font-size="13.2" stroke="#000" stroke-width="0.2">non-AA-associated bladder cancer</text><text transform="translate(231.40 539.70) scale(1 1.12)" font-size="13.07" stroke="#000" stroke-width="0.2">(TCGA-FD-A6TE-01A-12D-A339-08)</text><line x1="88.95" y1="565.8" x2="186.23" y2="565.8" stroke="#1b9e77" stroke-width="2.2"/><text transform="translate(128.29 560.90) scale(1 1.04)" font-size="13" text-anchor="middle" stroke="#000" stroke-width="0.2">C&gt;A</text><text transform="translate(166.39 560.30) scale(1 0.9)" font-size="9.5" text-anchor="middle" stroke="#000" stroke-width="0.2">(27)</text><path d="M89.25 624.60V623.90 M95.69 624.60V623.60 M102.14 624.60V624.60 M108.59 624.60V624.60 M115.03 624.60V623.90 M121.47 624.60V624.60 M127.92 624.60V624.60 M134.37 624.60V623.60 M140.81 624.60V623.60 M147.25 624.60V624.60 M153.70 624.60V624.60 M160.15 624.60V624.60 M166.59 624.60V619.70 M173.03 624.60V622.00 M179.48 624.60V612.70 M185.93 624.60V618.40" stroke="#1b9e77" stroke-width="3.45" stroke-linecap="round" fill="none"/><text x="89.25" y="635.40" font-size="6.3" text-anchor="middle" stroke="#000" stroke-width="0.1">A</text><text x="89.25" y="641.50" font-size="6.3" text-anchor="middle" stroke="#000" stroke-width="0.1">A</text><text x="95.69" y="643.90" font-size="6.3" text-anchor="middle" stroke="#000" stroke-width="0.1">C</text><text x="102.14" y="646.00" font-size="6.3" text-anchor="middle" stroke="#000" stroke-width="0.1">G</text><text x="108.59" y="647.80" font-size="6.3" text-anchor="middle" stroke="#000" stroke-width="0.1">T</text><text x="115.03" y="635.40" font-size="6.3" text-anchor="middle" stroke="#000" stroke-width="0.1">C</text><text x="115.03" y="641.50" font-size="6.3" text-anchor="middle" stroke="#000" stroke-width="0.1">A</text><text x="121.47" y="643.90" font-size="6.3" text-anchor="middle" stroke="#000" stroke-width="0.1">C</text><text x="127.92" y="646.00" font-size="6.3" text-anchor="middle" stroke="#000" stroke-width="0.1">G</text><text x="134.37" y="647.80" font-size="6.3" text-anchor="middle" stroke="#000" stroke-width="0.1">T</text><text x="140.81" y="635.40" font-size="6.3" text-anchor="middle" stroke="#000" stroke-width="0.1">G</text><text x="140.81" y="641.50" font-size="6.3" text-anchor="middle" stroke="#000" stroke-width="0.1">A</text><text x="147.25" y="643.90" font-size="6.3" text-anchor="middle" stroke="#000" stroke-width="0.1">C</text><text x="153.70" y="646.00" font-size="6.3" text-anchor="middle" stroke="#000" stroke-width="0.1">G</text><text x="160.15" y="647.80" font-size="6.3" text-anchor="middle" stroke="#000" stroke-width="0.1">T</text><text x="166.59" y="635.40" font-size="6.3" text-anchor="middle" stroke="#000" stroke-width="0.1">T</text><text x="166.59" y="641.50" font-size="6.3" text-anchor="middle" stroke="#000" stroke-width="0.1">A</text><text x="173.03" y="643.90" font-size="6.3" text-anchor="middle" stroke="#000" stroke-width="0.1">C</text><text x="179.48" y="646.00" font-size="6.3" text-anchor="middle" stroke="#000" stroke-width="0.1">G</text><text x="185.93" y="647.80" font-size="6.3" text-anchor="middle" stroke="#000" stroke-width="0.1">T</text><line x1="192.07" y1="565.8" x2="289.35" y2="565.8" stroke="#d95f02" stroke-width="2.2"/><text transform="translate(231.41 560.90) scale(1 1.04)" font-size="13" text-anchor="middle" stroke="#000" stroke-width="0.2">C&gt;G</text><text transform="translate(269.51 560.30) scale(1 0.9)" font-size="9.5" text-anchor="middle" stroke="#000" stroke-width="0.2">(105)</text><path d="M192.37 624.60V624.60 M198.81 624.60V624.60 M205.26 624.60V621.60 M211.71 624.60V624.60 M218.15 624.60V624.60 M224.59 624.60V623.60 M231.04 624.60V624.60 M237.49 624.60V623.60 M243.93 624.60V624.60 M250.38 624.60V623.80 M256.82 624.60V622.50 M263.26 624.60V623.80 M269.71 624.60V594.20 M276.15 624.60V613.20 M282.60 624.60V609.00 M289.05 624.60V582.30" stroke="#d95f02" stroke-width="3.45" stroke-linecap="round" fill="none"/><text x="192.37" y="635.40" font-size="6.3" text-anchor="middle" stroke="#000" stroke-width="0.1">A</text><text x="192.37" y="641.50" font-size="6.3" text-anchor="middle" stroke="#000" stroke-width="0.1">A</text><text x="198.81" y="643.90" font-size="6.3" text-anchor="middle" stroke="#000" stroke-width="0.1">C</text><text x="205.26" y="646.00" font-size="6.3" text-anchor="middle" stroke="#000" stroke-width="0.1">G</text><text x="211.71" y="647.80" font-size="6.3" text-anchor="middle" stroke="#000" stroke-width="0.1">T</text><text x="218.15" y="635.40" font-size="6.3" text-anchor="middle" stroke="#000" stroke-width="0.1">C</text><text x="218.15" y="641.50" font-size="6.3" text-anchor="middle" stroke="#000" stroke-width="0.1">A</text><text x="224.59" y="643.90" font-size="6.3" text-anchor="middle" stroke="#000" stroke-width="0.1">C</text><text x="231.04" y="646.00" font-size="6.3" text-anchor="middle" stroke="#000" stroke-width="0.1">G</text><text x="237.49" y="647.80" font-size="6.3" text-anchor="middle" stroke="#000" stroke-width="0.1">T</text><text x="243.93" y="635.40" font-size="6.3" text-anchor="middle" stroke="#000" stroke-width="0.1">G</text><text x="243.93" y="641.50" font-size="6.3" text-anchor="middle" stroke="#000" stroke-width="0.1">A</text><text x="250.38" y="643.90" font-size="6.3" text-anchor="middle" stroke="#000" stroke-width="0.1">C</text><text x="256.82" y="646.00" font-size="6.3" text-anchor="middle" stroke="#000" stroke-width="0.1">G</text><text x="263.26" y="647.80" font-size="6.3" text-anchor="middle" stroke="#000" stroke-width="0.1">T</text><text x="269.71" y="635.40" font-size="6.3" text-anchor="middle" stroke="#000" stroke-width="0.1">T</text><text x="269.71" y="641.50" font-size="6.3" text-anchor="middle" stroke="#000" stroke-width="0.1">A</text><text x="276.15" y="643.90" font-size="6.3" text-anchor="middle" stroke="#000" stroke-width="0.1">C</text><text x="282.60" y="646.00" font-size="6.3" text-anchor="middle" stroke="#000" stroke-width="0.1">G</text><text x="289.05" y="647.80" font-size="6.3" text-anchor="middle" stroke="#000" stroke-width="0.1">T</text><line x1="295.19" y1="565.8" x2="392.47" y2="565.8" stroke="#7570b3" stroke-width="2.2"/><text transform="translate(334.53 560.90) scale(1 1.04)" font-size="13" text-anchor="middle" stroke="#000" stroke-width="0.2">C&gt;T</text><text transform="translate(372.63 560.30) scale(1 0.9)" font-size="9.5" text-anchor="middle" stroke="#000" stroke-width="0.2">(153)</text><path d="M295.49 624.60V623.30 M301.94 624.60V621.60 M308.38 624.60V605.70 M314.83 624.60V624.20 M321.27 624.60V622.90 M327.72 624.60V623.30 M334.16 624.60V611.40 M340.61 624.60V622.00 M347.05 624.60V623.30 M353.50 624.60V624.60 M359.94 624.60V618.30 M366.38 624.60V623.30 M372.83 624.60V569.60 M379.28 624.60V606.10 M385.72 624.60V573.00 M392.17 624.60V605.00" stroke="#7570b3" stroke-width="3.45" stroke-linecap="round" fill="none"/><text x="295.49" y="635.40" font-size="6.3" text-anchor="middle" stroke="#000" stroke-width="0.1">A</text><text x="295.49" y="641.50" font-size="6.3" text-anchor="middle" stroke="#000" stroke-width="0.1">A</text><text x="301.94" y="643.90" font-size="6.3" text-anchor="middle" stroke="#000" stroke-width="0.1">C</text><text x="308.38" y="646.00" font-size="6.3" text-anchor="middle" stroke="#000" stroke-width="0.1">G</text><text x="314.83" y="647.80" font-size="6.3" text-anchor="middle" stroke="#000" stroke-width="0.1">T</text><text x="321.27" y="635.40" font-size="6.3" text-anchor="middle" stroke="#000" stroke-width="0.1">C</text><text x="321.27" y="641.50" font-size="6.3" text-anchor="middle" stroke="#000" stroke-width="0.1">A</text><text x="327.72" y="643.90" font-size="6.3" text-anchor="middle" stroke="#000" stroke-width="0.1">C</text><text x="334.16" y="646.00" font-size="6.3" text-anchor="middle" stroke="#000" stroke-width="0.1">G</text><text x="340.61" y="647.80" font-size="6.3" text-anchor="middle" stroke="#000" stroke-width="0.1">T</text><text x="347.05" y="635.40" font-size="6.3" text-anchor="middle" stroke="#000" stroke-width="0.1">G</text><text x="347.05" y="641.50" font-size="6.3" text-anchor="middle" stroke="#000" stroke-width="0.1">A</text><text x="353.50" y="643.90" font-size="6.3" text-anchor="middle" stroke="#000" stroke-width="0.1">C</text><text x="359.94" y="646.00" font-size="6.3" text-anchor="middle" stroke="#000" stroke-width="0.1">G</text><text x="366.38" y="647.80" font-size="6.3" text-anchor="middle" stroke="#000" stroke-width="0.1">T</text><text x="372.83" y="635.40" font-size="6.3" text-anchor="middle" stroke="#000" stroke-width="0.1">T</text><text x="372.83" y="641.50" font-size="6.3" text-anchor="middle" stroke="#000" stroke-width="0.1">A</text><text x="379.28" y="643.90" font-size="6.3" text-anchor="middle" stroke="#000" stroke-width="0.1">C</text><text x="385.72" y="646.00" font-size="6.3" text-anchor="middle" stroke="#000" stroke-width="0.1">G</text><text x="392.17" y="647.80" font-size="6.3" text-anchor="middle" stroke="#000" stroke-width="0.1">T</text><line x1="398.31" y1="565.8" x2="495.59" y2="565.8" stroke="#e7298a" stroke-width="2.2"/><text transform="translate(437.65 560.90) scale(1 1.04)" font-size="13" text-anchor="middle" stroke="#000" stroke-width="0.2">A:T&gt;T:A</text><text transform="translate(475.75 560.30) scale(1 0.9)" font-size="9.5" text-anchor="middle" stroke="#000" stroke-width="0.2">(0)</text><path d="M398.61 624.60V624.60 M405.06 624.60V624.60 M411.50 624.60V624.60 M417.94 624.60V624.60 M424.39 624.60V624.60 M430.84 624.60V624.60 M437.28 624.60V624.60 M443.73 624.60V624.60 M450.17 624.60V624.60 M456.62 624.60V624.60 M463.06 624.60V624.60 M469.50 624.60V624.60 M475.95 624.60V624.60 M482.40 624.60V624.60 M488.84 624.60V624.60 M495.29 624.60V624.60" stroke="#e7298a" stroke-width="3.45" stroke-linecap="round" fill="none"/><text x="398.61" y="635.40" font-size="6.3" text-anchor="middle" stroke="#000" stroke-width="0.1">A</text><text x="398.61" y="641.50" font-size="6.3" text-anchor="middle" stroke="#000" stroke-width="0.1">A</text><text x="405.06" y="643.90" font-size="6.3" text-anchor="middle" stroke="#000" stroke-width="0.1">C</text><text x="411.50" y="646.00" font-size="6.3" text-anchor="middle" stroke="#000" stroke-width="0.1">G</text><text x="417.94" y="647.80" font-size="6.3" text-anchor="middle" stroke="#000" stroke-width="0.1">T</text><text x="424.39" y="635.40" font-size="6.3" text-anchor="middle" stroke="#000" stroke-width="0.1">C</text><text x="424.39" y="641.50" font-size="6.3" text-anchor="middle" stroke="#000" stroke-width="0.1">A</text><text x="430.84" y="643.90" font-size="6.3" text-anchor="middle" stroke="#000" stroke-width="0.1">C</text><text x="437.28" y="646.00" font-size="6.3" text-anchor="middle" stroke="#000" stroke-width="0.1">G</text><text x="443.73" y="647.80" font-size="6.3" text-anchor="middle" stroke="#000" stroke-width="0.1">T</text><text x="450.17" y="635.40" font-size="6.3" text-anchor="middle" stroke="#000" stroke-width="0.1">G</text><text x="450.17" y="641.50" font-size="6.3" text-anchor="middle" stroke="#000" stroke-width="0.1">A</text><text x="456.62" y="643.90" font-size="6.3" text-anchor="middle" stroke="#000" stroke-width="0.1">C</text><text x="463.06" y="646.00" font-size="6.3" text-anchor="middle" stroke="#000" stroke-width="0.1">G</text><text x="469.50" y="647.80" font-size="6.3" text-anchor="middle" stroke="#000" stroke-width="0.1">T</text><text x="475.95" y="635.40" font-size="6.3" text-anchor="middle" stroke="#000" stroke-width="0.1">T</text><text x="475.95" y="641.50" font-size="6.3" text-anchor="middle" stroke="#000" stroke-width="0.1">A</text><text x="482.40" y="643.90" font-size="6.3" text-anchor="middle" stroke="#000" stroke-width="0.1">C</text><text x="488.84" y="646.00" font-size="6.3" text-anchor="middle" stroke="#000" stroke-width="0.1">G</text><text x="495.29" y="647.80" font-size="6.3" text-anchor="middle" stroke="#000" stroke-width="0.1">T</text><line x1="501.43" y1="565.8" x2="598.70" y2="565.8" stroke="#66a61e" stroke-width="2.2"/><text transform="translate(540.77 560.90) scale(1 1.04)" font-size="13" text-anchor="middle" stroke="#000" stroke-width="0.2">T&gt;C</text><text transform="translate(578.87 560.30) scale(1 0.9)" font-size="9.5" text-anchor="middle" stroke="#000" stroke-width="0.2">(7)</text><path d="M501.73 624.60V624.60 M508.18 624.60V624.60 M514.62 624.60V623.30 M521.07 624.60V623.10 M527.51 624.60V622.40 M533.96 624.60V624.60 M540.40 624.60V624.60 M546.85 624.60V624.60 M553.29 624.60V622.80 M559.74 624.60V624.60 M566.18 624.60V623.60 M572.62 624.60V624.60 M579.07 624.60V624.60 M585.52 624.60V624.60 M591.96 624.60V624.60 M598.40 624.60V623.60" stroke="#66a61e" stroke-width="3.45" stroke-linecap="round" fill="none"/><text x="501.73" y="635.40" font-size="6.3" text-anchor="middle" stroke="#000" stroke-width="0.1">A</text><text x="501.73" y="641.50" font-size="6.3" text-anchor="middle" stroke="#000" stroke-width="0.1">A</text><text x="508.18" y="643.90" font-size="6.3" text-anchor="middle" stroke="#000" stroke-width="0.1">C</text><text x="514.62" y="646.00" font-size="6.3" text-anchor="middle" stroke="#000" stroke-width="0.1">G</text><text x="521.07" y="647.80" font-size="6.3" text-anchor="middle" stroke="#000" stroke-width="0.1">T</text><text x="527.51" y="635.40" font-size="6.3" text-anchor="middle" stroke="#000" stroke-width="0.1">C</text><text x="527.51" y="641.50" font-size="6.3" text-anchor="middle" stroke="#000" stroke-width="0.1">A</text><text x="533.96" y="643.90" font-size="6.3" text-anchor="middle" stroke="#000" stroke-width="0.1">C</text><text x="540.40" y="646.00" font-size="6.3" text-anchor="middle" stroke="#000" stroke-width="0.1">G</text><text x="546.85" y="647.80" font-size="6.3" text-anchor="middle" stroke="#000" stroke-width="0.1">T</text><text x="553.29" y="635.40" font-size="6.3" text-anchor="middle" stroke="#000" stroke-width="0.1">G</text><text x="553.29" y="641.50" font-size="6.3" text-anchor="middle" stroke="#000" stroke-width="0.1">A</text><text x="559.74" y="643.90" font-size="6.3" text-anchor="middle" stroke="#000" stroke-width="0.1">C</text><text x="566.18" y="646.00" font-size="6.3" text-anchor="middle" stroke="#000" stroke-width="0.1">G</text><text x="572.62" y="647.80" font-size="6.3" text-anchor="middle" stroke="#000" stroke-width="0.1">T</text><text x="579.07" y="635.40" font-size="6.3" text-anchor="middle" stroke="#000" stroke-width="0.1">T</text><text x="579.07" y="641.50" font-size="6.3" text-anchor="middle" stroke="#000" stroke-width="0.1">A</text><text x="585.52" y="643.90" font-size="6.3" text-anchor="middle" stroke="#000" stroke-width="0.1">C</text><text x="591.96" y="646.00" font-size="6.3" text-anchor="middle" stroke="#000" stroke-width="0.1">G</text><text x="598.40" y="647.80" font-size="6.3" text-anchor="middle" stroke="#000" stroke-width="0.1">T</text><line x1="604.55" y1="565.8" x2="701.82" y2="565.8" stroke="#a6761d" stroke-width="2.2"/><text transform="translate(643.89 560.90) scale(1 1.04)" font-size="13" text-anchor="middle" stroke="#000" stroke-width="0.2">T&gt;G</text><text transform="translate(681.99 560.30) scale(1 0.9)" font-size="9.5" text-anchor="middle" stroke="#000" stroke-width="0.2">(2)</text><path d="M604.85 624.60V624.60 M611.30 624.60V623.10 M617.74 624.60V624.60 M624.19 624.60V624.60 M630.63 624.60V624.60 M637.08 624.60V624.60 M643.52 624.60V624.60 M649.97 624.60V624.60 M656.41 624.60V624.60 M662.86 624.60V624.60 M669.30 624.60V624.60 M675.75 624.60V624.60 M682.19 624.60V624.60 M688.63 624.60V623.60 M695.08 624.60V624.60 M701.52 624.60V624.60" stroke="#a6761d" stroke-width="3.45" stroke-linecap="round" fill="none"/><text x="604.85" y="635.40" font-size="6.3" text-anchor="middle" stroke="#000" stroke-width="0.1">A</text><text x="604.85" y="641.50" font-size="6.3" text-anchor="middle" stroke="#000" stroke-width="0.1">A</text><text x="611.30" y="643.90" font-size="6.3" text-anchor="middle" stroke="#000" stroke-width="0.1">C</text><text x="617.74" y="646.00" font-size="6.3" text-anchor="middle" stroke="#000" stroke-width="0.1">G</text><text x="624.19" y="647.80" font-size="6.3" text-anchor="middle" stroke="#000" stroke-width="0.1">T</text><text x="630.63" y="635.40" font-size="6.3" text-anchor="middle" stroke="#000" stroke-width="0.1">C</text><text x="630.63" y="641.50" font-size="6.3" text-anchor="middle" stroke="#000" stroke-width="0.1">A</text><text x="637.08" y="643.90" font-size="6.3" text-anchor="middle" stroke="#000" stroke-width="0.1">C</text><text x="643.52" y="646.00" font-size="6.3" text-anchor="middle" stroke="#000" stroke-width="0.1">G</text><text x="649.97" y="647.80" font-size="6.3" text-anchor="middle" stroke="#000" stroke-width="0.1">T</text><text x="656.41" y="635.40" font-size="6.3" text-anchor="middle" stroke="#000" stroke-width="0.1">G</text><text x="656.41" y="641.50" font-size="6.3" text-anchor="middle" stroke="#000" stroke-width="0.1">A</text><text x="662.86" y="643.90" font-size="6.3" text-anchor="middle" stroke="#000" stroke-width="0.1">C</text><text x="669.30" y="646.00" font-size="6.3" text-anchor="middle" stroke="#000" stroke-width="0.1">G</text><text x="675.75" y="647.80" font-size="6.3" text-anchor="middle" stroke="#000" stroke-width="0.1">T</text><text x="682.19" y="635.40" font-size="6.3" text-anchor="middle" stroke="#000" stroke-width="0.1">T</text><text x="682.19" y="641.50" font-size="6.3" text-anchor="middle" stroke="#000" stroke-width="0.1">A</text><text x="688.63" y="643.90" font-size="6.3" text-anchor="middle" stroke="#000" stroke-width="0.1">C</text><text x="695.08" y="646.00" font-size="6.3" text-anchor="middle" stroke="#000" stroke-width="0.1">G</text><text x="701.52" y="647.80" font-size="6.3" text-anchor="middle" stroke="#000" stroke-width="0.1">T</text><path d="M58.20 569.7H65.00V624.6H58.20" stroke="#000" stroke-width="1.4" fill="none"/><text x="52.30" y="574.70" font-size="10" text-anchor="end" stroke="#000" stroke-width="0.2">0.15</text><text x="52.30" y="629.80" font-size="10" text-anchor="end" stroke="#000" stroke-width="0.2">0.00</text><text transform="translate(23.80 597.15) rotate(-90)" font-size="10.5" text-anchor="middle" stroke="#000" stroke-width="0.2">proportion</text><text x="79.50" y="637.50" font-size="8" text-anchor="end" stroke="#000" stroke-width="0.1">preceded by 5'</text><text x="79.00" y="645.20" font-size="8" text-anchor="end" stroke="#000" stroke-width="0.1">followed by 3'</text><path d="M746.20 568.6H753.20V624.60H746.20" stroke="#000" stroke-width="1.4" fill="none"/><text transform="translate(740.30 574.20) scale(1 1.1)" font-size="10.3" text-anchor="end" stroke="#000" stroke-width="0.2">10</text><text transform="translate(740.80 630.20) scale(1 1.1)" font-size="10.3" text-anchor="end" stroke="#000" stroke-width="0.2">0</text><path d="M764.20 624.8V624.80M774.50 624.8V624.80" stroke="#e7298a" stroke-width="3.3" stroke-linecap="round" fill="none"/><text x="764.20" y="640.00" font-size="9.5" text-anchor="middle" stroke="#000" stroke-width="0.05">T</text><text x="774.50" y="640.00" font-size="9.5" text-anchor="middle" stroke="#000" stroke-width="0.05">N</text></g>
</svg></body></html>
